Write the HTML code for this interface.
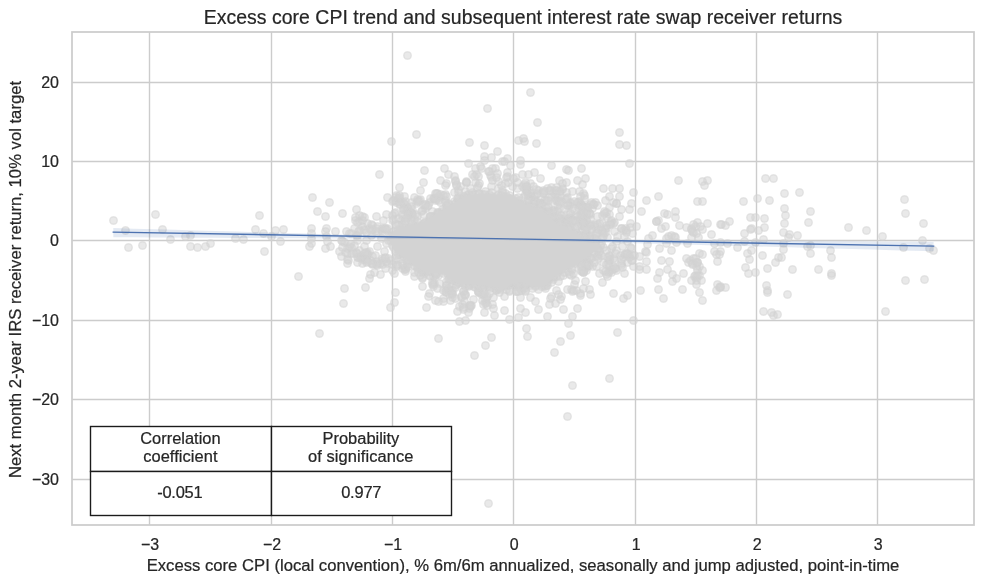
<!DOCTYPE html>
<html lang="en">
<head>
<meta charset="utf-8">
<title>Excess core CPI trend and subsequent interest rate swap receiver returns</title>
<style>html,body{margin:0;padding:0;background:#fff;overflow:hidden}svg{display:block;font-family:"Liberation Sans",sans-serif;font-variant-ligatures:none;font-kerning:normal}text{stroke:#262626;stroke-width:0.22px;stroke-linejoin:round}</style>
</head>
<body>
<svg width="984" height="584" viewBox="0 0 984 584" role="img" aria-label="Scatter plot with regression line">
<rect width="984" height="584" fill="#fff"/>
<g stroke="#cccccc" stroke-width="1.39" fill="none">
<line x1="149.5" y1="32.0" x2="149.5" y2="525.0"/>
<line x1="271.5" y1="32.0" x2="271.5" y2="525.0"/>
<line x1="392.5" y1="32.0" x2="392.5" y2="525.0"/>
<line x1="513.5" y1="32.0" x2="513.5" y2="525.0"/>
<line x1="635.5" y1="32.0" x2="635.5" y2="525.0"/>
<line x1="756.5" y1="32.0" x2="756.5" y2="525.0"/>
<line x1="877.5" y1="32.0" x2="877.5" y2="525.0"/>
<line x1="72.0" y1="479.5" x2="974.0" y2="479.5"/>
<line x1="72.0" y1="399.5" x2="974.0" y2="399.5"/>
<line x1="72.0" y1="320.5" x2="974.0" y2="320.5"/>
<line x1="72.0" y1="240.5" x2="974.0" y2="240.5"/>
<line x1="72.0" y1="161.5" x2="974.0" y2="161.5"/>
<line x1="72.0" y1="82.5" x2="974.0" y2="82.5"/>
</g>
<g fill="#d3d3d3" fill-opacity="0.5" stroke="#d3d3d3" stroke-opacity="0.5" stroke-width="1.39">
<circle cx="518.5" cy="280.5" r="3.8"/>
<circle cx="529.5" cy="275.5" r="3.8"/>
<circle cx="598.5" cy="248.5" r="3.8"/>
<circle cx="398.5" cy="229.5" r="3.8"/>
<circle cx="398.5" cy="236.5" r="3.8"/>
<circle cx="546.5" cy="279.5" r="3.8"/>
<circle cx="412.5" cy="227.5" r="3.8"/>
<circle cx="551.5" cy="223.5" r="3.8"/>
<circle cx="398.5" cy="248.5" r="3.8"/>
<circle cx="464.5" cy="280.5" r="3.8"/>
<circle cx="475.5" cy="194.5" r="3.8"/>
<circle cx="474.5" cy="281.5" r="3.8"/>
<circle cx="425.5" cy="222.5" r="3.8"/>
<circle cx="542.5" cy="222.5" r="3.8"/>
<circle cx="395.5" cy="234.5" r="3.8"/>
<circle cx="433.5" cy="224.5" r="3.8"/>
<circle cx="510.5" cy="198.5" r="3.8"/>
<circle cx="559.5" cy="268.5" r="3.8"/>
<circle cx="536.5" cy="214.5" r="3.8"/>
<circle cx="525.5" cy="280.5" r="3.8"/>
<circle cx="476.5" cy="200.5" r="3.8"/>
<circle cx="562.5" cy="233.5" r="3.8"/>
<circle cx="456.5" cy="274.5" r="3.8"/>
<circle cx="510.5" cy="282.5" r="3.8"/>
<circle cx="532.5" cy="210.5" r="3.8"/>
<circle cx="576.5" cy="233.5" r="3.8"/>
<circle cx="410.5" cy="234.5" r="3.8"/>
<circle cx="499.5" cy="201.5" r="3.8"/>
<circle cx="519.5" cy="276.5" r="3.8"/>
<circle cx="432.5" cy="266.5" r="3.8"/>
<circle cx="395.5" cy="251.5" r="3.8"/>
<circle cx="478.5" cy="193.5" r="3.8"/>
<circle cx="570.5" cy="262.5" r="3.8"/>
<circle cx="472.5" cy="194.5" r="3.8"/>
<circle cx="586.5" cy="257.5" r="3.8"/>
<circle cx="391.5" cy="232.5" r="3.8"/>
<circle cx="456.5" cy="279.5" r="3.8"/>
<circle cx="404.5" cy="246.5" r="3.8"/>
<circle cx="449.5" cy="267.5" r="3.8"/>
<circle cx="553.5" cy="279.5" r="3.8"/>
<circle cx="412.5" cy="253.5" r="3.8"/>
<circle cx="429.5" cy="218.5" r="3.8"/>
<circle cx="579.5" cy="250.5" r="3.8"/>
<circle cx="512.5" cy="199.5" r="3.8"/>
<circle cx="554.5" cy="221.5" r="3.8"/>
<circle cx="470.5" cy="203.5" r="3.8"/>
<circle cx="493.5" cy="199.5" r="3.8"/>
<circle cx="558.5" cy="270.5" r="3.8"/>
<circle cx="548.5" cy="280.5" r="3.8"/>
<circle cx="484.5" cy="198.5" r="3.8"/>
<circle cx="393.5" cy="247.5" r="3.8"/>
<circle cx="444.5" cy="267.5" r="3.8"/>
<circle cx="467.5" cy="197.5" r="3.8"/>
<circle cx="570.5" cy="233.5" r="3.8"/>
<circle cx="540.5" cy="213.5" r="3.8"/>
<circle cx="563.5" cy="228.5" r="3.8"/>
<circle cx="532.5" cy="211.5" r="3.8"/>
<circle cx="388.5" cy="240.5" r="3.8"/>
<circle cx="447.5" cy="267.5" r="3.8"/>
<circle cx="448.5" cy="271.5" r="3.8"/>
<circle cx="400.5" cy="229.5" r="3.8"/>
<circle cx="508.5" cy="285.5" r="3.8"/>
<circle cx="512.5" cy="276.5" r="3.8"/>
<circle cx="544.5" cy="211.5" r="3.8"/>
<circle cx="548.5" cy="277.5" r="3.8"/>
<circle cx="465.5" cy="201.5" r="3.8"/>
<circle cx="393.5" cy="231.5" r="3.8"/>
<circle cx="559.5" cy="262.5" r="3.8"/>
<circle cx="505.5" cy="193.5" r="3.8"/>
<circle cx="398.5" cy="254.5" r="3.8"/>
<circle cx="572.5" cy="261.5" r="3.8"/>
<circle cx="473.5" cy="276.5" r="3.8"/>
<circle cx="429.5" cy="267.5" r="3.8"/>
<circle cx="443.5" cy="263.5" r="3.8"/>
<circle cx="439.5" cy="221.5" r="3.8"/>
<circle cx="491.5" cy="283.5" r="3.8"/>
<circle cx="437.5" cy="212.5" r="3.8"/>
<circle cx="528.5" cy="215.5" r="3.8"/>
<circle cx="547.5" cy="271.5" r="3.8"/>
<circle cx="419.5" cy="263.5" r="3.8"/>
<circle cx="418.5" cy="225.5" r="3.8"/>
<circle cx="443.5" cy="273.5" r="3.8"/>
<circle cx="434.5" cy="217.5" r="3.8"/>
<circle cx="578.5" cy="240.5" r="3.8"/>
<circle cx="416.5" cy="263.5" r="3.8"/>
<circle cx="390.5" cy="240.5" r="3.8"/>
<circle cx="501.5" cy="287.5" r="3.8"/>
<circle cx="439.5" cy="214.5" r="3.8"/>
<circle cx="414.5" cy="265.5" r="3.8"/>
<circle cx="509.5" cy="195.5" r="3.8"/>
<circle cx="444.5" cy="214.5" r="3.8"/>
<circle cx="468.5" cy="277.5" r="3.8"/>
<circle cx="501.5" cy="283.5" r="3.8"/>
<circle cx="422.5" cy="265.5" r="3.8"/>
<circle cx="491.5" cy="198.5" r="3.8"/>
<circle cx="401.5" cy="246.5" r="3.8"/>
<circle cx="514.5" cy="279.5" r="3.8"/>
<circle cx="493.5" cy="285.5" r="3.8"/>
<circle cx="594.5" cy="247.5" r="3.8"/>
<circle cx="411.5" cy="235.5" r="3.8"/>
<circle cx="573.5" cy="233.5" r="3.8"/>
<circle cx="527.5" cy="212.5" r="3.8"/>
<circle cx="546.5" cy="219.5" r="3.8"/>
<circle cx="580.5" cy="243.5" r="3.8"/>
<circle cx="589.5" cy="244.5" r="3.8"/>
<circle cx="437.5" cy="214.5" r="3.8"/>
<circle cx="512.5" cy="204.5" r="3.8"/>
<circle cx="454.5" cy="204.5" r="3.8"/>
<circle cx="527.5" cy="282.5" r="3.8"/>
<circle cx="498.5" cy="198.5" r="3.8"/>
<circle cx="464.5" cy="202.5" r="3.8"/>
<circle cx="559.5" cy="230.5" r="3.8"/>
<circle cx="455.5" cy="209.5" r="3.8"/>
<circle cx="592.5" cy="251.5" r="3.8"/>
<circle cx="509.5" cy="200.5" r="3.8"/>
<circle cx="406.5" cy="260.5" r="3.8"/>
<circle cx="552.5" cy="223.5" r="3.8"/>
<circle cx="422.5" cy="271.5" r="3.8"/>
<circle cx="573.5" cy="241.5" r="3.8"/>
<circle cx="454.5" cy="210.5" r="3.8"/>
<circle cx="550.5" cy="217.5" r="3.8"/>
<circle cx="535.5" cy="285.5" r="3.8"/>
<circle cx="427.5" cy="268.5" r="3.8"/>
<circle cx="524.5" cy="277.5" r="3.8"/>
<circle cx="421.5" cy="229.5" r="3.8"/>
<circle cx="542.5" cy="279.5" r="3.8"/>
<circle cx="515.5" cy="198.5" r="3.8"/>
<circle cx="465.5" cy="283.5" r="3.8"/>
<circle cx="487.5" cy="286.5" r="3.8"/>
<circle cx="475.5" cy="277.5" r="3.8"/>
<circle cx="483.5" cy="200.5" r="3.8"/>
<circle cx="486.5" cy="201.5" r="3.8"/>
<circle cx="588.5" cy="251.5" r="3.8"/>
<circle cx="427.5" cy="226.5" r="3.8"/>
<circle cx="568.5" cy="229.5" r="3.8"/>
<circle cx="554.5" cy="228.5" r="3.8"/>
<circle cx="418.5" cy="229.5" r="3.8"/>
<circle cx="569.5" cy="234.5" r="3.8"/>
<circle cx="553.5" cy="269.5" r="3.8"/>
<circle cx="538.5" cy="210.5" r="3.8"/>
<circle cx="532.5" cy="280.5" r="3.8"/>
<circle cx="571.5" cy="258.5" r="3.8"/>
<circle cx="536.5" cy="217.5" r="3.8"/>
<circle cx="438.5" cy="219.5" r="3.8"/>
<circle cx="460.5" cy="203.5" r="3.8"/>
<circle cx="420.5" cy="226.5" r="3.8"/>
<circle cx="582.5" cy="241.5" r="3.8"/>
<circle cx="481.5" cy="280.5" r="3.8"/>
<circle cx="481.5" cy="285.5" r="3.8"/>
<circle cx="544.5" cy="218.5" r="3.8"/>
<circle cx="583.5" cy="256.5" r="3.8"/>
<circle cx="465.5" cy="277.5" r="3.8"/>
<circle cx="403.5" cy="250.5" r="3.8"/>
<circle cx="393.5" cy="238.5" r="3.8"/>
<circle cx="420.5" cy="268.5" r="3.8"/>
<circle cx="573.5" cy="257.5" r="3.8"/>
<circle cx="445.5" cy="212.5" r="3.8"/>
<circle cx="454.5" cy="201.5" r="3.8"/>
<circle cx="422.5" cy="224.5" r="3.8"/>
<circle cx="449.5" cy="278.5" r="3.8"/>
<circle cx="460.5" cy="280.5" r="3.8"/>
<circle cx="473.5" cy="282.5" r="3.8"/>
<circle cx="544.5" cy="286.5" r="3.8"/>
<circle cx="577.5" cy="258.5" r="3.8"/>
<circle cx="426.5" cy="262.5" r="3.8"/>
<circle cx="539.5" cy="219.5" r="3.8"/>
<circle cx="433.5" cy="216.5" r="3.8"/>
<circle cx="533.5" cy="283.5" r="3.8"/>
<circle cx="556.5" cy="265.5" r="3.8"/>
<circle cx="559.5" cy="270.5" r="3.8"/>
<circle cx="429.5" cy="263.5" r="3.8"/>
<circle cx="453.5" cy="280.5" r="3.8"/>
<circle cx="583.5" cy="239.5" r="3.8"/>
<circle cx="584.5" cy="253.5" r="3.8"/>
<circle cx="548.5" cy="221.5" r="3.8"/>
<circle cx="430.5" cy="222.5" r="3.8"/>
<circle cx="486.5" cy="278.5" r="3.8"/>
<circle cx="519.5" cy="200.5" r="3.8"/>
<circle cx="461.5" cy="278.5" r="3.8"/>
<circle cx="520.5" cy="280.5" r="3.8"/>
<circle cx="455.5" cy="207.5" r="3.8"/>
<circle cx="568.5" cy="265.5" r="3.8"/>
<circle cx="461.5" cy="198.5" r="3.8"/>
<circle cx="585.5" cy="251.5" r="3.8"/>
<circle cx="478.5" cy="279.5" r="3.8"/>
<circle cx="429.5" cy="264.5" r="3.8"/>
<circle cx="424.5" cy="222.5" r="3.8"/>
<circle cx="489.5" cy="194.5" r="3.8"/>
<circle cx="418.5" cy="258.5" r="3.8"/>
<circle cx="523.5" cy="212.5" r="3.8"/>
<circle cx="418.5" cy="266.5" r="3.8"/>
<circle cx="548.5" cy="216.5" r="3.8"/>
<circle cx="542.5" cy="277.5" r="3.8"/>
<circle cx="539.5" cy="282.5" r="3.8"/>
<circle cx="452.5" cy="207.5" r="3.8"/>
<circle cx="409.5" cy="256.5" r="3.8"/>
<circle cx="546.5" cy="215.5" r="3.8"/>
<circle cx="539.5" cy="214.5" r="3.8"/>
<circle cx="433.5" cy="226.5" r="3.8"/>
<circle cx="553.5" cy="271.5" r="3.8"/>
<circle cx="459.5" cy="283.5" r="3.8"/>
<circle cx="400.5" cy="254.5" r="3.8"/>
<circle cx="495.5" cy="198.5" r="3.8"/>
<circle cx="483.5" cy="282.5" r="3.8"/>
<circle cx="459.5" cy="277.5" r="3.8"/>
<circle cx="573.5" cy="238.5" r="3.8"/>
<circle cx="481.5" cy="198.5" r="3.8"/>
<circle cx="398.5" cy="250.5" r="3.8"/>
<circle cx="483.5" cy="285.5" r="3.8"/>
<circle cx="489.5" cy="286.5" r="3.8"/>
<circle cx="579.5" cy="261.5" r="3.8"/>
<circle cx="415.5" cy="226.5" r="3.8"/>
<circle cx="421.5" cy="259.5" r="3.8"/>
<circle cx="446.5" cy="215.5" r="3.8"/>
<circle cx="524.5" cy="275.5" r="3.8"/>
<circle cx="550.5" cy="271.5" r="3.8"/>
<circle cx="587.5" cy="252.5" r="3.8"/>
<circle cx="531.5" cy="215.5" r="3.8"/>
<circle cx="534.5" cy="281.5" r="3.8"/>
<circle cx="575.5" cy="260.5" r="3.8"/>
<circle cx="584.5" cy="247.5" r="3.8"/>
<circle cx="556.5" cy="273.5" r="3.8"/>
<circle cx="576.5" cy="244.5" r="3.8"/>
<circle cx="506.5" cy="283.5" r="3.8"/>
<circle cx="423.5" cy="261.5" r="3.8"/>
<circle cx="517.5" cy="206.5" r="3.8"/>
<circle cx="553.5" cy="219.5" r="3.8"/>
<circle cx="424.5" cy="223.5" r="3.8"/>
<circle cx="576.5" cy="242.5" r="3.8"/>
<circle cx="471.5" cy="280.5" r="3.8"/>
<circle cx="479.5" cy="199.5" r="3.8"/>
<circle cx="479.5" cy="278.5" r="3.8"/>
<circle cx="549.5" cy="226.5" r="3.8"/>
<circle cx="474.5" cy="284.5" r="3.8"/>
<circle cx="459.5" cy="205.5" r="3.8"/>
<circle cx="547.5" cy="225.5" r="3.8"/>
<circle cx="517.5" cy="275.5" r="3.8"/>
<circle cx="403.5" cy="229.5" r="3.8"/>
<circle cx="518.5" cy="208.5" r="3.8"/>
<circle cx="526.5" cy="208.5" r="3.8"/>
<circle cx="571.5" cy="230.5" r="3.8"/>
<circle cx="409.5" cy="227.5" r="3.8"/>
<circle cx="491.5" cy="192.5" r="3.8"/>
<circle cx="569.5" cy="238.5" r="3.8"/>
<circle cx="552.5" cy="226.5" r="3.8"/>
<circle cx="564.5" cy="236.5" r="3.8"/>
<circle cx="580.5" cy="254.5" r="3.8"/>
<circle cx="568.5" cy="259.5" r="3.8"/>
<circle cx="445.5" cy="266.5" r="3.8"/>
<circle cx="440.5" cy="270.5" r="3.8"/>
<circle cx="463.5" cy="206.5" r="3.8"/>
<circle cx="506.5" cy="200.5" r="3.8"/>
<circle cx="489.5" cy="283.5" r="3.8"/>
<circle cx="585.5" cy="245.5" r="3.8"/>
<circle cx="579.5" cy="256.5" r="3.8"/>
<circle cx="449.5" cy="266.5" r="3.8"/>
<circle cx="450.5" cy="279.5" r="3.8"/>
<circle cx="530.5" cy="275.5" r="3.8"/>
<circle cx="582.5" cy="261.5" r="3.8"/>
<circle cx="393.5" cy="235.5" r="3.8"/>
<circle cx="529.5" cy="211.5" r="3.8"/>
<circle cx="576.5" cy="238.5" r="3.8"/>
<circle cx="451.5" cy="277.5" r="3.8"/>
<circle cx="533.5" cy="276.5" r="3.8"/>
<circle cx="413.5" cy="256.5" r="3.8"/>
<circle cx="578.5" cy="254.5" r="3.8"/>
<circle cx="539.5" cy="280.5" r="3.8"/>
<circle cx="490.5" cy="279.5" r="3.8"/>
<circle cx="530.5" cy="285.5" r="3.8"/>
<circle cx="503.5" cy="280.5" r="3.8"/>
<circle cx="561.5" cy="269.5" r="3.8"/>
<circle cx="524.5" cy="205.5" r="3.8"/>
<circle cx="415.5" cy="256.5" r="3.8"/>
<circle cx="486.5" cy="197.5" r="3.8"/>
<circle cx="501.5" cy="279.5" r="3.8"/>
<circle cx="406.5" cy="256.5" r="3.8"/>
<circle cx="567.5" cy="236.5" r="3.8"/>
<circle cx="557.5" cy="229.5" r="3.8"/>
<circle cx="569.5" cy="265.5" r="3.8"/>
<circle cx="396.5" cy="245.5" r="3.8"/>
<circle cx="593.5" cy="244.5" r="3.8"/>
<circle cx="482.5" cy="194.5" r="3.8"/>
<circle cx="515.5" cy="283.5" r="3.8"/>
<circle cx="553.5" cy="276.5" r="3.8"/>
<circle cx="464.5" cy="198.5" r="3.8"/>
<circle cx="411.5" cy="259.5" r="3.8"/>
<circle cx="575.5" cy="263.5" r="3.8"/>
<circle cx="454.5" cy="274.5" r="3.8"/>
<circle cx="527.5" cy="277.5" r="3.8"/>
<circle cx="536.5" cy="282.5" r="3.8"/>
<circle cx="441.5" cy="264.5" r="3.8"/>
<circle cx="529.5" cy="210.5" r="3.8"/>
<circle cx="442.5" cy="211.5" r="3.8"/>
<circle cx="498.5" cy="194.5" r="3.8"/>
<circle cx="583.5" cy="250.5" r="3.8"/>
<circle cx="499.5" cy="288.5" r="3.8"/>
<circle cx="582.5" cy="244.5" r="3.8"/>
<circle cx="433.5" cy="222.5" r="3.8"/>
<circle cx="396.5" cy="240.5" r="3.8"/>
<circle cx="542.5" cy="282.5" r="3.8"/>
<circle cx="515.5" cy="277.5" r="3.8"/>
<circle cx="423.5" cy="271.5" r="3.8"/>
<circle cx="515.5" cy="204.5" r="3.8"/>
<circle cx="416.5" cy="232.5" r="3.8"/>
<circle cx="437.5" cy="264.5" r="3.8"/>
<circle cx="412.5" cy="232.5" r="3.8"/>
<circle cx="430.5" cy="216.5" r="3.8"/>
<circle cx="451.5" cy="211.5" r="3.8"/>
<circle cx="451.5" cy="272.5" r="3.8"/>
<circle cx="469.5" cy="284.5" r="3.8"/>
<circle cx="588.5" cy="247.5" r="3.8"/>
<circle cx="468.5" cy="204.5" r="3.8"/>
<circle cx="506.5" cy="289.5" r="3.8"/>
<circle cx="512.5" cy="280.5" r="3.8"/>
<circle cx="470.5" cy="275.5" r="3.8"/>
<circle cx="527.5" cy="280.5" r="3.8"/>
<circle cx="520.5" cy="204.5" r="3.8"/>
<circle cx="520.5" cy="274.5" r="3.8"/>
<circle cx="501.5" cy="198.5" r="3.8"/>
<circle cx="488.5" cy="199.5" r="3.8"/>
<circle cx="471.5" cy="196.5" r="3.8"/>
<circle cx="430.5" cy="226.5" r="3.8"/>
<circle cx="447.5" cy="206.5" r="3.8"/>
<circle cx="434.5" cy="266.5" r="3.8"/>
<circle cx="447.5" cy="213.5" r="3.8"/>
<circle cx="530.5" cy="282.5" r="3.8"/>
<circle cx="504.5" cy="200.5" r="3.8"/>
<circle cx="395.5" cy="242.5" r="3.8"/>
<circle cx="403.5" cy="235.5" r="3.8"/>
<circle cx="406.5" cy="254.5" r="3.8"/>
<circle cx="474.5" cy="198.5" r="3.8"/>
<circle cx="460.5" cy="274.5" r="3.8"/>
<circle cx="588.5" cy="243.5" r="3.8"/>
<circle cx="446.5" cy="209.5" r="3.8"/>
<circle cx="496.5" cy="200.5" r="3.8"/>
<circle cx="445.5" cy="271.5" r="3.8"/>
<circle cx="483.5" cy="279.5" r="3.8"/>
<circle cx="527.5" cy="206.5" r="3.8"/>
<circle cx="456.5" cy="202.5" r="3.8"/>
<circle cx="519.5" cy="203.5" r="3.8"/>
<circle cx="552.5" cy="222.5" r="3.8"/>
<circle cx="392.5" cy="245.5" r="3.8"/>
<circle cx="504.5" cy="196.5" r="3.8"/>
<circle cx="498.5" cy="279.5" r="3.8"/>
<circle cx="431.5" cy="219.5" r="3.8"/>
<circle cx="558.5" cy="228.5" r="3.8"/>
<circle cx="442.5" cy="209.5" r="3.8"/>
<circle cx="519.5" cy="207.5" r="3.8"/>
<circle cx="507.5" cy="197.5" r="3.8"/>
<circle cx="449.5" cy="214.5" r="3.8"/>
<circle cx="536.5" cy="213.5" r="3.8"/>
<circle cx="472.5" cy="201.5" r="3.8"/>
<circle cx="496.5" cy="196.5" r="3.8"/>
<circle cx="390.5" cy="236.5" r="3.8"/>
<circle cx="477.5" cy="285.5" r="3.8"/>
<circle cx="521.5" cy="209.5" r="3.8"/>
<circle cx="550.5" cy="277.5" r="3.8"/>
<circle cx="405.5" cy="227.5" r="3.8"/>
<circle cx="492.5" cy="278.5" r="3.8"/>
<circle cx="430.5" cy="223.5" r="3.8"/>
<circle cx="479.5" cy="193.5" r="3.8"/>
<circle cx="423.5" cy="260.5" r="3.8"/>
<circle cx="437.5" cy="268.5" r="3.8"/>
<circle cx="419.5" cy="232.5" r="3.8"/>
<circle cx="458.5" cy="200.5" r="3.8"/>
<circle cx="500.5" cy="283.5" r="3.8"/>
<circle cx="566.5" cy="234.5" r="3.8"/>
<circle cx="484.5" cy="194.5" r="3.8"/>
<circle cx="545.5" cy="220.5" r="3.8"/>
<circle cx="432.5" cy="263.5" r="3.8"/>
<circle cx="561.5" cy="265.5" r="3.8"/>
<circle cx="563.5" cy="266.5" r="3.8"/>
<circle cx="406.5" cy="236.5" r="3.8"/>
<circle cx="437.5" cy="222.5" r="3.8"/>
<circle cx="425.5" cy="229.5" r="3.8"/>
<circle cx="466.5" cy="279.5" r="3.8"/>
<circle cx="546.5" cy="283.5" r="3.8"/>
<circle cx="555.5" cy="268.5" r="3.8"/>
<circle cx="412.5" cy="231.5" r="3.8"/>
<circle cx="415.5" cy="260.5" r="3.8"/>
<circle cx="488.5" cy="279.5" r="3.8"/>
<circle cx="400.5" cy="234.5" r="3.8"/>
<circle cx="491.5" cy="196.5" r="3.8"/>
<circle cx="574.5" cy="256.5" r="3.8"/>
<circle cx="556.5" cy="233.5" r="3.8"/>
<circle cx="428.5" cy="223.5" r="3.8"/>
<circle cx="403.5" cy="253.5" r="3.8"/>
<circle cx="400.5" cy="246.5" r="3.8"/>
<circle cx="408.5" cy="250.5" r="3.8"/>
<circle cx="407.5" cy="231.5" r="3.8"/>
<circle cx="417.5" cy="268.5" r="3.8"/>
<circle cx="501.5" cy="195.5" r="3.8"/>
<circle cx="514.5" cy="206.5" r="3.8"/>
<circle cx="503.5" cy="202.5" r="3.8"/>
<circle cx="557.5" cy="224.5" r="3.8"/>
<circle cx="454.5" cy="212.5" r="3.8"/>
<circle cx="427.5" cy="270.5" r="3.8"/>
<circle cx="503.5" cy="285.5" r="3.8"/>
<circle cx="410.5" cy="261.5" r="3.8"/>
<circle cx="583.5" cy="259.5" r="3.8"/>
<circle cx="461.5" cy="282.5" r="3.8"/>
<circle cx="564.5" cy="230.5" r="3.8"/>
<circle cx="541.5" cy="214.5" r="3.8"/>
<circle cx="447.5" cy="273.5" r="3.8"/>
<circle cx="563.5" cy="262.5" r="3.8"/>
<circle cx="425.5" cy="265.5" r="3.8"/>
<circle cx="413.5" cy="229.5" r="3.8"/>
<circle cx="507.5" cy="279.5" r="3.8"/>
<circle cx="575.5" cy="235.5" r="3.8"/>
<circle cx="479.5" cy="282.5" r="3.8"/>
<circle cx="558.5" cy="232.5" r="3.8"/>
<circle cx="433.5" cy="269.5" r="3.8"/>
<circle cx="529.5" cy="206.5" r="3.8"/>
<circle cx="463.5" cy="275.5" r="3.8"/>
<circle cx="466.5" cy="195.5" r="3.8"/>
<circle cx="510.5" cy="277.5" r="3.8"/>
<circle cx="530.5" cy="277.5" r="3.8"/>
<circle cx="454.5" cy="272.5" r="3.8"/>
<circle cx="430.5" cy="271.5" r="3.8"/>
<circle cx="413.5" cy="261.5" r="3.8"/>
<circle cx="461.5" cy="208.5" r="3.8"/>
<circle cx="422.5" cy="227.5" r="3.8"/>
<circle cx="422.5" cy="269.5" r="3.8"/>
<circle cx="583.5" cy="242.5" r="3.8"/>
<circle cx="578.5" cy="235.5" r="3.8"/>
<circle cx="450.5" cy="274.5" r="3.8"/>
<circle cx="456.5" cy="278.5" r="3.8"/>
<circle cx="439.5" cy="268.5" r="3.8"/>
<circle cx="403.5" cy="256.5" r="3.8"/>
<circle cx="498.5" cy="286.5" r="3.8"/>
<circle cx="405.5" cy="249.5" r="3.8"/>
<circle cx="482.5" cy="278.5" r="3.8"/>
<circle cx="495.5" cy="280.5" r="3.8"/>
<circle cx="476.5" cy="198.5" r="3.8"/>
<circle cx="468.5" cy="194.5" r="3.8"/>
<circle cx="580.5" cy="260.5" r="3.8"/>
<circle cx="566.5" cy="261.5" r="3.8"/>
<circle cx="485.5" cy="282.5" r="3.8"/>
<circle cx="590.5" cy="246.5" r="3.8"/>
<circle cx="449.5" cy="209.5" r="3.8"/>
<circle cx="565.5" cy="268.5" r="3.8"/>
<circle cx="559.5" cy="235.5" r="3.8"/>
<circle cx="496.5" cy="283.5" r="3.8"/>
<circle cx="516.5" cy="274.5" r="3.8"/>
<circle cx="552.5" cy="273.5" r="3.8"/>
<circle cx="542.5" cy="285.5" r="3.8"/>
<circle cx="552.5" cy="229.5" r="3.8"/>
<circle cx="397.5" cy="240.5" r="3.8"/>
<circle cx="506.5" cy="277.5" r="3.8"/>
<circle cx="405.5" cy="233.5" r="3.8"/>
<circle cx="515.5" cy="201.5" r="3.8"/>
<circle cx="580.5" cy="235.5" r="3.8"/>
<circle cx="462.5" cy="200.5" r="3.8"/>
<circle cx="400.5" cy="235.5" r="3.8"/>
<circle cx="549.5" cy="273.5" r="3.8"/>
<circle cx="403.5" cy="234.5" r="3.8"/>
<circle cx="469.5" cy="201.5" r="3.8"/>
<circle cx="442.5" cy="218.5" r="3.8"/>
<circle cx="534.5" cy="210.5" r="3.8"/>
<circle cx="530.5" cy="92.5" r="3.8"/>
<circle cx="663.5" cy="298.5" r="3.8"/>
<circle cx="326.5" cy="228.5" r="3.8"/>
<circle cx="369.5" cy="228.5" r="3.8"/>
<circle cx="661.5" cy="228.5" r="3.8"/>
<circle cx="398.5" cy="198.5" r="3.8"/>
<circle cx="430.5" cy="198.5" r="3.8"/>
<circle cx="691.5" cy="228.5" r="3.8"/>
<circle cx="311.5" cy="228.5" r="3.8"/>
<circle cx="162.5" cy="229.5" r="3.8"/>
<circle cx="420.5" cy="199.5" r="3.8"/>
<circle cx="848.5" cy="227.5" r="3.8"/>
<circle cx="387.5" cy="197.5" r="3.8"/>
<circle cx="686.5" cy="227.5" r="3.8"/>
<circle cx="364.5" cy="230.5" r="3.8"/>
<circle cx="626.5" cy="230.5" r="3.8"/>
<circle cx="377.5" cy="265.5" r="3.8"/>
<circle cx="556.5" cy="290.5" r="3.8"/>
<circle cx="435.5" cy="200.5" r="3.8"/>
<circle cx="866.5" cy="230.5" r="3.8"/>
<circle cx="702.5" cy="300.5" r="3.8"/>
<circle cx="636.5" cy="226.5" r="3.8"/>
<circle cx="335.5" cy="231.5" r="3.8"/>
<circle cx="497.5" cy="151.5" r="3.8"/>
<circle cx="665.5" cy="226.5" r="3.8"/>
<circle cx="404.5" cy="196.5" r="3.8"/>
<circle cx="626.5" cy="145.5" r="3.8"/>
<circle cx="325.5" cy="231.5" r="3.8"/>
<circle cx="346.5" cy="231.5" r="3.8"/>
<circle cx="692.5" cy="231.5" r="3.8"/>
<circle cx="516.5" cy="291.5" r="3.8"/>
<circle cx="405.5" cy="201.5" r="3.8"/>
<circle cx="484.5" cy="145.5" r="3.8"/>
<circle cx="372.5" cy="225.5" r="3.8"/>
<circle cx="679.5" cy="225.5" r="3.8"/>
<circle cx="621.5" cy="228.5" r="3.8"/>
<circle cx="443.5" cy="195.5" r="3.8"/>
<circle cx="695.5" cy="226.5" r="3.8"/>
<circle cx="396.5" cy="202.5" r="3.8"/>
<circle cx="445.5" cy="194.5" r="3.8"/>
<circle cx="349.5" cy="233.5" r="3.8"/>
<circle cx="367.5" cy="223.5" r="3.8"/>
<circle cx="630.5" cy="223.5" r="3.8"/>
<circle cx="632.5" cy="233.5" r="3.8"/>
<circle cx="385.5" cy="268.5" r="3.8"/>
<circle cx="416.5" cy="203.5" r="3.8"/>
<circle cx="619.5" cy="144.5" r="3.8"/>
<circle cx="923.5" cy="223.5" r="3.8"/>
<circle cx="311.5" cy="233.5" r="3.8"/>
<circle cx="784.5" cy="223.5" r="3.8"/>
<circle cx="783.5" cy="232.5" r="3.8"/>
<circle cx="696.5" cy="233.5" r="3.8"/>
<circle cx="437.5" cy="193.5" r="3.8"/>
<circle cx="405.5" cy="269.5" r="3.8"/>
<circle cx="808.5" cy="222.5" r="3.8"/>
<circle cx="377.5" cy="226.5" r="3.8"/>
<circle cx="469.5" cy="142.5" r="3.8"/>
<circle cx="697.5" cy="222.5" r="3.8"/>
<circle cx="789.5" cy="234.5" r="3.8"/>
<circle cx="699.5" cy="292.5" r="3.8"/>
<circle cx="488.5" cy="503.5" r="3.8"/>
<circle cx="190.5" cy="235.5" r="3.8"/>
<circle cx="356.5" cy="235.5" r="3.8"/>
<circle cx="371.5" cy="235.5" r="3.8"/>
<circle cx="652.5" cy="235.5" r="3.8"/>
<circle cx="671.5" cy="235.5" r="3.8"/>
<circle cx="797.5" cy="235.5" r="3.8"/>
<circle cx="524.5" cy="141.5" r="3.8"/>
<circle cx="668.5" cy="236.5" r="3.8"/>
<circle cx="674.5" cy="236.5" r="3.8"/>
<circle cx="504.5" cy="296.5" r="3.8"/>
<circle cx="551.5" cy="296.5" r="3.8"/>
<circle cx="359.5" cy="221.5" r="3.8"/>
<circle cx="484.5" cy="156.5" r="3.8"/>
<circle cx="656.5" cy="221.5" r="3.8"/>
<circle cx="185.5" cy="236.5" r="3.8"/>
<circle cx="882.5" cy="236.5" r="3.8"/>
<circle cx="716.5" cy="290.5" r="3.8"/>
<circle cx="905.5" cy="280.5" r="3.8"/>
<circle cx="326.5" cy="236.5" r="3.8"/>
<circle cx="355.5" cy="220.5" r="3.8"/>
<circle cx="617.5" cy="236.5" r="3.8"/>
<circle cx="624.5" cy="236.5" r="3.8"/>
<circle cx="487.5" cy="296.5" r="3.8"/>
<circle cx="561.5" cy="296.5" r="3.8"/>
<circle cx="640.5" cy="290.5" r="3.8"/>
<circle cx="411.5" cy="206.5" r="3.8"/>
<circle cx="518.5" cy="140.5" r="3.8"/>
<circle cx="420.5" cy="190.5" r="3.8"/>
<circle cx="658.5" cy="220.5" r="3.8"/>
<circle cx="491.5" cy="157.5" r="3.8"/>
<circle cx="700.5" cy="226.5" r="3.8"/>
<circle cx="520.5" cy="297.5" r="3.8"/>
<circle cx="530.5" cy="297.5" r="3.8"/>
<circle cx="536.5" cy="143.5" r="3.8"/>
<circle cx="691.5" cy="237.5" r="3.8"/>
<circle cx="698.5" cy="237.5" r="3.8"/>
<circle cx="788.5" cy="237.5" r="3.8"/>
<circle cx="374.5" cy="272.5" r="3.8"/>
<circle cx="493.5" cy="297.5" r="3.8"/>
<circle cx="658.5" cy="289.5" r="3.8"/>
<circle cx="682.5" cy="289.5" r="3.8"/>
<circle cx="924.5" cy="279.5" r="3.8"/>
<circle cx="507.5" cy="158.5" r="3.8"/>
<circle cx="311.5" cy="238.5" r="3.8"/>
<circle cx="381.5" cy="238.5" r="3.8"/>
<circle cx="648.5" cy="238.5" r="3.8"/>
<circle cx="666.5" cy="238.5" r="3.8"/>
<circle cx="394.5" cy="273.5" r="3.8"/>
<circle cx="425.5" cy="208.5" r="3.8"/>
<circle cx="523.5" cy="138.5" r="3.8"/>
<circle cx="614.5" cy="231.5" r="3.8"/>
<circle cx="380.5" cy="274.5" r="3.8"/>
<circle cx="370.5" cy="274.5" r="3.8"/>
<circle cx="560.5" cy="299.5" r="3.8"/>
<circle cx="170.5" cy="239.5" r="3.8"/>
<circle cx="675.5" cy="217.5" r="3.8"/>
<circle cx="613.5" cy="223.5" r="3.8"/>
<circle cx="787.5" cy="294.5" r="3.8"/>
<circle cx="382.5" cy="230.5" r="3.8"/>
<circle cx="702.5" cy="229.5" r="3.8"/>
<circle cx="399.5" cy="187.5" r="3.8"/>
<circle cx="364.5" cy="217.5" r="3.8"/>
<circle cx="357.5" cy="240.5" r="3.8"/>
<circle cx="366.5" cy="240.5" r="3.8"/>
<circle cx="484.5" cy="160.5" r="3.8"/>
<circle cx="520.5" cy="160.5" r="3.8"/>
<circle cx="719.5" cy="287.5" r="3.8"/>
<circle cx="922.5" cy="240.5" r="3.8"/>
<circle cx="567.5" cy="289.5" r="3.8"/>
<circle cx="619.5" cy="216.5" r="3.8"/>
<circle cx="325.5" cy="216.5" r="3.8"/>
<circle cx="327.5" cy="241.5" r="3.8"/>
<circle cx="376.5" cy="216.5" r="3.8"/>
<circle cx="362.5" cy="216.5" r="3.8"/>
<circle cx="502.5" cy="161.5" r="3.8"/>
<circle cx="504.5" cy="161.5" r="3.8"/>
<circle cx="627.5" cy="241.5" r="3.8"/>
<circle cx="616.5" cy="241.5" r="3.8"/>
<circle cx="785.5" cy="215.5" r="3.8"/>
<circle cx="414.5" cy="276.5" r="3.8"/>
<circle cx="474.5" cy="355.5" r="3.8"/>
<circle cx="611.5" cy="220.5" r="3.8"/>
<circle cx="344.5" cy="242.5" r="3.8"/>
<circle cx="676.5" cy="242.5" r="3.8"/>
<circle cx="486.5" cy="302.5" r="3.8"/>
<circle cx="725.5" cy="287.5" r="3.8"/>
<circle cx="696.5" cy="284.5" r="3.8"/>
<circle cx="155.5" cy="214.5" r="3.8"/>
<circle cx="667.5" cy="214.5" r="3.8"/>
<circle cx="717.5" cy="284.5" r="3.8"/>
<circle cx="311.5" cy="243.5" r="3.8"/>
<circle cx="210.5" cy="243.5" r="3.8"/>
<circle cx="386.5" cy="243.5" r="3.8"/>
<circle cx="629.5" cy="163.5" r="3.8"/>
<circle cx="666.5" cy="243.5" r="3.8"/>
<circle cx="687.5" cy="243.5" r="3.8"/>
<circle cx="783.5" cy="243.5" r="3.8"/>
<circle cx="369.5" cy="278.5" r="3.8"/>
<circle cx="555.5" cy="303.5" r="3.8"/>
<circle cx="386.5" cy="214.5" r="3.8"/>
<circle cx="468.5" cy="163.5" r="3.8"/>
<circle cx="343.5" cy="303.5" r="3.8"/>
<circle cx="319.5" cy="333.5" r="3.8"/>
<circle cx="905.5" cy="213.5" r="3.8"/>
<circle cx="473.5" cy="299.5" r="3.8"/>
<circle cx="446.5" cy="183.5" r="3.8"/>
<circle cx="342.5" cy="213.5" r="3.8"/>
<circle cx="664.5" cy="213.5" r="3.8"/>
<circle cx="647.5" cy="244.5" r="3.8"/>
<circle cx="492.5" cy="304.5" r="3.8"/>
<circle cx="549.5" cy="304.5" r="3.8"/>
<circle cx="520.5" cy="164.5" r="3.8"/>
<circle cx="387.5" cy="228.5" r="3.8"/>
<circle cx="619.5" cy="132.5" r="3.8"/>
<circle cx="707.5" cy="223.5" r="3.8"/>
<circle cx="554.5" cy="352.5" r="3.8"/>
<circle cx="423.5" cy="182.5" r="3.8"/>
<circle cx="354.5" cy="245.5" r="3.8"/>
<circle cx="510.5" cy="165.5" r="3.8"/>
<circle cx="810.5" cy="245.5" r="3.8"/>
<circle cx="142.5" cy="245.5" r="3.8"/>
<circle cx="675.5" cy="211.5" r="3.8"/>
<circle cx="607.5" cy="237.5" r="3.8"/>
<circle cx="572.5" cy="291.5" r="3.8"/>
<circle cx="627.5" cy="295.5" r="3.8"/>
<circle cx="810.5" cy="211.5" r="3.8"/>
<circle cx="672.5" cy="281.5" r="3.8"/>
<circle cx="317.5" cy="211.5" r="3.8"/>
<circle cx="309.5" cy="246.5" r="3.8"/>
<circle cx="641.5" cy="211.5" r="3.8"/>
<circle cx="807.5" cy="246.5" r="3.8"/>
<circle cx="606.5" cy="216.5" r="3.8"/>
<circle cx="455.5" cy="181.5" r="3.8"/>
<circle cx="190.5" cy="246.5" r="3.8"/>
<circle cx="389.5" cy="235.5" r="3.8"/>
<circle cx="480.5" cy="166.5" r="3.8"/>
<circle cx="205.5" cy="246.5" r="3.8"/>
<circle cx="701.5" cy="280.5" r="3.8"/>
<circle cx="330.5" cy="246.5" r="3.8"/>
<circle cx="349.5" cy="246.5" r="3.8"/>
<circle cx="364.5" cy="246.5" r="3.8"/>
<circle cx="377.5" cy="246.5" r="3.8"/>
<circle cx="612.5" cy="246.5" r="3.8"/>
<circle cx="622.5" cy="246.5" r="3.8"/>
<circle cx="440.5" cy="180.5" r="3.8"/>
<circle cx="606.5" cy="225.5" r="3.8"/>
<circle cx="470.5" cy="305.5" r="3.8"/>
<circle cx="691.5" cy="280.5" r="3.8"/>
<circle cx="696.5" cy="280.5" r="3.8"/>
<circle cx="574.5" cy="284.5" r="3.8"/>
<circle cx="197.5" cy="247.5" r="3.8"/>
<circle cx="629.5" cy="209.5" r="3.8"/>
<circle cx="390.5" cy="307.5" r="3.8"/>
<circle cx="903.5" cy="247.5" r="3.8"/>
<circle cx="609.5" cy="378.5" r="3.8"/>
<circle cx="356.5" cy="209.5" r="3.8"/>
<circle cx="621.5" cy="209.5" r="3.8"/>
<circle cx="495.5" cy="168.5" r="3.8"/>
<circle cx="575.5" cy="280.5" r="3.8"/>
<circle cx="444.5" cy="168.5" r="3.8"/>
<circle cx="235.5" cy="238.5" r="3.8"/>
<circle cx="325.5" cy="248.5" r="3.8"/>
<circle cx="391.5" cy="141.5" r="3.8"/>
<circle cx="711.5" cy="234.5" r="3.8"/>
<circle cx="659.5" cy="248.5" r="3.8"/>
<circle cx="631.5" cy="248.5" r="3.8"/>
<circle cx="929.5" cy="248.5" r="3.8"/>
<circle cx="469.5" cy="308.5" r="3.8"/>
<circle cx="493.5" cy="308.5" r="3.8"/>
<circle cx="520.5" cy="308.5" r="3.8"/>
<circle cx="128.5" cy="247.5" r="3.8"/>
<circle cx="885.5" cy="311.5" r="3.8"/>
<circle cx="784.5" cy="208.5" r="3.8"/>
<circle cx="657.5" cy="278.5" r="3.8"/>
<circle cx="676.5" cy="278.5" r="3.8"/>
<circle cx="538.5" cy="309.5" r="3.8"/>
<circle cx="783.5" cy="249.5" r="3.8"/>
<circle cx="563.5" cy="309.5" r="3.8"/>
<circle cx="283.5" cy="229.5" r="3.8"/>
<circle cx="623.5" cy="298.5" r="3.8"/>
<circle cx="777.5" cy="314.5" r="3.8"/>
<circle cx="576.5" cy="290.5" r="3.8"/>
<circle cx="466.5" cy="181.5" r="3.8"/>
<circle cx="359.5" cy="250.5" r="3.8"/>
<circle cx="671.5" cy="250.5" r="3.8"/>
<circle cx="609.5" cy="207.5" r="3.8"/>
<circle cx="606.5" cy="250.5" r="3.8"/>
<circle cx="504.5" cy="310.5" r="3.8"/>
<circle cx="602.5" cy="215.5" r="3.8"/>
<circle cx="602.5" cy="231.5" r="3.8"/>
<circle cx="602.5" cy="237.5" r="3.8"/>
<circle cx="830.5" cy="250.5" r="3.8"/>
<circle cx="633.5" cy="320.5" r="3.8"/>
<circle cx="694.5" cy="276.5" r="3.8"/>
<circle cx="454.5" cy="176.5" r="3.8"/>
<circle cx="933.5" cy="250.5" r="3.8"/>
<circle cx="577.5" cy="308.5" r="3.8"/>
<circle cx="488.5" cy="171.5" r="3.8"/>
<circle cx="422.5" cy="286.5" r="3.8"/>
<circle cx="339.5" cy="251.5" r="3.8"/>
<circle cx="714.5" cy="243.5" r="3.8"/>
<circle cx="714.5" cy="251.5" r="3.8"/>
<circle cx="394.5" cy="302.5" r="3.8"/>
<circle cx="831.5" cy="275.5" r="3.8"/>
<circle cx="125.5" cy="230.5" r="3.8"/>
<circle cx="369.5" cy="251.5" r="3.8"/>
<circle cx="384.5" cy="251.5" r="3.8"/>
<circle cx="645.5" cy="251.5" r="3.8"/>
<circle cx="485.5" cy="345.5" r="3.8"/>
<circle cx="534.5" cy="172.5" r="3.8"/>
<circle cx="601.5" cy="243.5" r="3.8"/>
<circle cx="484.5" cy="312.5" r="3.8"/>
<circle cx="525.5" cy="312.5" r="3.8"/>
<circle cx="365.5" cy="287.5" r="3.8"/>
<circle cx="280.5" cy="241.5" r="3.8"/>
<circle cx="507.5" cy="172.5" r="3.8"/>
<circle cx="551.5" cy="165.5" r="3.8"/>
<circle cx="646.5" cy="252.5" r="3.8"/>
<circle cx="764.5" cy="218.5" r="3.8"/>
<circle cx="764.5" cy="227.5" r="3.8"/>
<circle cx="468.5" cy="312.5" r="3.8"/>
<circle cx="567.5" cy="416.5" r="3.8"/>
<circle cx="379.5" cy="174.5" r="3.8"/>
<circle cx="351.5" cy="253.5" r="3.8"/>
<circle cx="699.5" cy="253.5" r="3.8"/>
<circle cx="672.5" cy="274.5" r="3.8"/>
<circle cx="448.5" cy="174.5" r="3.8"/>
<circle cx="580.5" cy="293.5" r="3.8"/>
<circle cx="347.5" cy="253.5" r="3.8"/>
<circle cx="626.5" cy="253.5" r="3.8"/>
<circle cx="810.5" cy="253.5" r="3.8"/>
<circle cx="497.5" cy="173.5" r="3.8"/>
<circle cx="616.5" cy="203.5" r="3.8"/>
<circle cx="599.5" cy="223.5" r="3.8"/>
<circle cx="763.5" cy="239.5" r="3.8"/>
<circle cx="831.5" cy="273.5" r="3.8"/>
<circle cx="773.5" cy="315.5" r="3.8"/>
<circle cx="407.5" cy="55.5" r="3.8"/>
<circle cx="580.5" cy="295.5" r="3.8"/>
<circle cx="683.5" cy="273.5" r="3.8"/>
<circle cx="472.5" cy="174.5" r="3.8"/>
<circle cx="476.5" cy="174.5" r="3.8"/>
<circle cx="702.5" cy="254.5" r="3.8"/>
<circle cx="631.5" cy="203.5" r="3.8"/>
<circle cx="528.5" cy="174.5" r="3.8"/>
<circle cx="598.5" cy="229.5" r="3.8"/>
<circle cx="462.5" cy="304.5" r="3.8"/>
<circle cx="537.5" cy="122.5" r="3.8"/>
<circle cx="522.5" cy="174.5" r="3.8"/>
<circle cx="395.5" cy="292.5" r="3.8"/>
<circle cx="329.5" cy="202.5" r="3.8"/>
<circle cx="659.5" cy="272.5" r="3.8"/>
<circle cx="490.5" cy="175.5" r="3.8"/>
<circle cx="634.5" cy="255.5" r="3.8"/>
<circle cx="620.5" cy="255.5" r="3.8"/>
<circle cx="609.5" cy="255.5" r="3.8"/>
<circle cx="601.5" cy="255.5" r="3.8"/>
<circle cx="762.5" cy="255.5" r="3.8"/>
<circle cx="461.5" cy="296.5" r="3.8"/>
<circle cx="494.5" cy="315.5" r="3.8"/>
<circle cx="771.5" cy="312.5" r="3.8"/>
<circle cx="697.5" cy="201.5" r="3.8"/>
<circle cx="702.5" cy="201.5" r="3.8"/>
<circle cx="560.5" cy="341.5" r="3.8"/>
<circle cx="639.5" cy="256.5" r="3.8"/>
<circle cx="597.5" cy="216.5" r="3.8"/>
<circle cx="572.5" cy="316.5" r="3.8"/>
<circle cx="547.5" cy="316.5" r="3.8"/>
<circle cx="341.5" cy="256.5" r="3.8"/>
<circle cx="719.5" cy="254.5" r="3.8"/>
<circle cx="583.5" cy="288.5" r="3.8"/>
<circle cx="583.5" cy="272.5" r="3.8"/>
<circle cx="243.5" cy="239.5" r="3.8"/>
<circle cx="372.5" cy="256.5" r="3.8"/>
<circle cx="478.5" cy="176.5" r="3.8"/>
<circle cx="646.5" cy="200.5" r="3.8"/>
<circle cx="605.5" cy="200.5" r="3.8"/>
<circle cx="769.5" cy="200.5" r="3.8"/>
<circle cx="702.5" cy="270.5" r="3.8"/>
<circle cx="424.5" cy="170.5" r="3.8"/>
<circle cx="596.5" cy="246.5" r="3.8"/>
<circle cx="778.5" cy="257.5" r="3.8"/>
<circle cx="518.5" cy="317.5" r="3.8"/>
<circle cx="697.5" cy="270.5" r="3.8"/>
<circle cx="720.5" cy="251.5" r="3.8"/>
<circle cx="275.5" cy="230.5" r="3.8"/>
<circle cx="595.5" cy="202.5" r="3.8"/>
<circle cx="358.5" cy="257.5" r="3.8"/>
<circle cx="831.5" cy="257.5" r="3.8"/>
<circle cx="781.5" cy="257.5" r="3.8"/>
<circle cx="904.5" cy="199.5" r="3.8"/>
<circle cx="646.5" cy="269.5" r="3.8"/>
<circle cx="639.5" cy="269.5" r="3.8"/>
<circle cx="572.5" cy="385.5" r="3.8"/>
<circle cx="720.5" cy="242.5" r="3.8"/>
<circle cx="792.5" cy="269.5" r="3.8"/>
<circle cx="818.5" cy="269.5" r="3.8"/>
<circle cx="686.5" cy="258.5" r="3.8"/>
<circle cx="667.5" cy="269.5" r="3.8"/>
<circle cx="721.5" cy="224.5" r="3.8"/>
<circle cx="540.5" cy="178.5" r="3.8"/>
<circle cx="382.5" cy="258.5" r="3.8"/>
<circle cx="765.5" cy="178.5" r="3.8"/>
<circle cx="773.5" cy="178.5" r="3.8"/>
<circle cx="693.5" cy="258.5" r="3.8"/>
<circle cx="429.5" cy="293.5" r="3.8"/>
<circle cx="594.5" cy="238.5" r="3.8"/>
<circle cx="758.5" cy="230.5" r="3.8"/>
<circle cx="344.5" cy="288.5" r="3.8"/>
<circle cx="348.5" cy="260.5" r="3.8"/>
<circle cx="438.5" cy="338.5" r="3.8"/>
<circle cx="585.5" cy="281.5" r="3.8"/>
<circle cx="509.5" cy="319.5" r="3.8"/>
<circle cx="757.5" cy="198.5" r="3.8"/>
<circle cx="347.5" cy="263.5" r="3.8"/>
<circle cx="457.5" cy="311.5" r="3.8"/>
<circle cx="613.5" cy="293.5" r="3.8"/>
<circle cx="767.5" cy="268.5" r="3.8"/>
<circle cx="767.5" cy="290.5" r="3.8"/>
<circle cx="767.5" cy="292.5" r="3.8"/>
<circle cx="312.5" cy="197.5" r="3.8"/>
<circle cx="586.5" cy="259.5" r="3.8"/>
<circle cx="491.5" cy="337.5" r="3.8"/>
<circle cx="492.5" cy="180.5" r="3.8"/>
<circle cx="690.5" cy="260.5" r="3.8"/>
<circle cx="631.5" cy="260.5" r="3.8"/>
<circle cx="614.5" cy="260.5" r="3.8"/>
<circle cx="707.5" cy="180.5" r="3.8"/>
<circle cx="661.5" cy="260.5" r="3.8"/>
<circle cx="592.5" cy="208.5" r="3.8"/>
<circle cx="465.5" cy="320.5" r="3.8"/>
<circle cx="633.5" cy="266.5" r="3.8"/>
<circle cx="559.5" cy="180.5" r="3.8"/>
<circle cx="678.5" cy="180.5" r="3.8"/>
<circle cx="766.5" cy="285.5" r="3.8"/>
<circle cx="527.5" cy="336.5" r="3.8"/>
<circle cx="658.5" cy="196.5" r="3.8"/>
<circle cx="609.5" cy="196.5" r="3.8"/>
<circle cx="619.5" cy="196.5" r="3.8"/>
<circle cx="669.5" cy="261.5" r="3.8"/>
<circle cx="591.5" cy="229.5" r="3.8"/>
<circle cx="639.5" cy="266.5" r="3.8"/>
<circle cx="699.5" cy="266.5" r="3.8"/>
<circle cx="702.5" cy="181.5" r="3.8"/>
<circle cx="717.5" cy="261.5" r="3.8"/>
<circle cx="459.5" cy="321.5" r="3.8"/>
<circle cx="271.5" cy="236.5" r="3.8"/>
<circle cx="376.5" cy="261.5" r="3.8"/>
<circle cx="498.5" cy="181.5" r="3.8"/>
<circle cx="646.5" cy="261.5" r="3.8"/>
<circle cx="755.5" cy="217.5" r="3.8"/>
<circle cx="428.5" cy="296.5" r="3.8"/>
<circle cx="570.5" cy="335.5" r="3.8"/>
<circle cx="591.5" cy="258.5" r="3.8"/>
<circle cx="755.5" cy="242.5" r="3.8"/>
<circle cx="725.5" cy="225.5" r="3.8"/>
<circle cx="589.5" cy="289.5" r="3.8"/>
<circle cx="617.5" cy="332.5" r="3.8"/>
<circle cx="475.5" cy="182.5" r="3.8"/>
<circle cx="517.5" cy="182.5" r="3.8"/>
<circle cx="696.5" cy="262.5" r="3.8"/>
<circle cx="603.5" cy="262.5" r="3.8"/>
<circle cx="775.5" cy="262.5" r="3.8"/>
<circle cx="745.5" cy="267.5" r="3.8"/>
<circle cx="362.5" cy="263.5" r="3.8"/>
<circle cx="371.5" cy="263.5" r="3.8"/>
<circle cx="387.5" cy="263.5" r="3.8"/>
<circle cx="505.5" cy="183.5" r="3.8"/>
<circle cx="443.5" cy="298.5" r="3.8"/>
<circle cx="568.5" cy="323.5" r="3.8"/>
<circle cx="763.5" cy="311.5" r="3.8"/>
<circle cx="113.5" cy="220.5" r="3.8"/>
<circle cx="530.5" cy="183.5" r="3.8"/>
<circle cx="589.5" cy="213.5" r="3.8"/>
<circle cx="784.5" cy="193.5" r="3.8"/>
<circle cx="590.5" cy="294.5" r="3.8"/>
<circle cx="524.5" cy="184.5" r="3.8"/>
<circle cx="692.5" cy="264.5" r="3.8"/>
<circle cx="799.5" cy="192.5" r="3.8"/>
<circle cx="452.5" cy="293.5" r="3.8"/>
<circle cx="727.5" cy="243.5" r="3.8"/>
<circle cx="478.5" cy="185.5" r="3.8"/>
<circle cx="633.5" cy="192.5" r="3.8"/>
<circle cx="621.5" cy="265.5" r="3.8"/>
<circle cx="435.5" cy="300.5" r="3.8"/>
<circle cx="450.5" cy="300.5" r="3.8"/>
<circle cx="587.5" cy="235.5" r="3.8"/>
<circle cx="751.5" cy="250.5" r="3.8"/>
<circle cx="704.5" cy="185.5" r="3.8"/>
<circle cx="748.5" cy="273.5" r="3.8"/>
<circle cx="587.5" cy="206.5" r="3.8"/>
<circle cx="592.5" cy="266.5" r="3.8"/>
<circle cx="751.5" cy="228.5" r="3.8"/>
<circle cx="491.5" cy="186.5" r="3.8"/>
<circle cx="460.5" cy="186.5" r="3.8"/>
<circle cx="512.5" cy="186.5" r="3.8"/>
<circle cx="729.5" cy="221.5" r="3.8"/>
<circle cx="596.5" cy="266.5" r="3.8"/>
<circle cx="750.5" cy="217.5" r="3.8"/>
<circle cx="750.5" cy="229.5" r="3.8"/>
<circle cx="438.5" cy="301.5" r="3.8"/>
<circle cx="586.5" cy="220.5" r="3.8"/>
<circle cx="566.5" cy="169.5" r="3.8"/>
<circle cx="566.5" cy="182.5" r="3.8"/>
<circle cx="585.5" cy="178.5" r="3.8"/>
<circle cx="749.5" cy="259.5" r="3.8"/>
<circle cx="526.5" cy="328.5" r="3.8"/>
<circle cx="603.5" cy="188.5" r="3.8"/>
<circle cx="612.5" cy="188.5" r="3.8"/>
<circle cx="619.5" cy="188.5" r="3.8"/>
<circle cx="255.5" cy="229.5" r="3.8"/>
<circle cx="264.5" cy="251.5" r="3.8"/>
<circle cx="487.5" cy="108.5" r="3.8"/>
<circle cx="584.5" cy="195.5" r="3.8"/>
<circle cx="448.5" cy="288.5" r="3.8"/>
<circle cx="263.5" cy="233.5" r="3.8"/>
<circle cx="747.5" cy="253.5" r="3.8"/>
<circle cx="568.5" cy="170.5" r="3.8"/>
<circle cx="392.5" cy="270.5" r="3.8"/>
<circle cx="550.5" cy="190.5" r="3.8"/>
<circle cx="502.5" cy="190.5" r="3.8"/>
<circle cx="586.5" cy="270.5" r="3.8"/>
<circle cx="616.5" cy="270.5" r="3.8"/>
<circle cx="582.5" cy="184.5" r="3.8"/>
<circle cx="582.5" cy="230.5" r="3.8"/>
<circle cx="298.5" cy="276.5" r="3.8"/>
<circle cx="602.5" cy="282.5" r="3.8"/>
<circle cx="560.5" cy="191.5" r="3.8"/>
<circle cx="465.5" cy="191.5" r="3.8"/>
<circle cx="485.5" cy="191.5" r="3.8"/>
<circle cx="581.5" cy="168.5" r="3.8"/>
<circle cx="755.5" cy="272.5" r="3.8"/>
<circle cx="609.5" cy="271.5" r="3.8"/>
<circle cx="581.5" cy="213.5" r="3.8"/>
<circle cx="426.5" cy="307.5" r="3.8"/>
<circle cx="259.5" cy="215.5" r="3.8"/>
<circle cx="416.5" cy="134.5" r="3.8"/>
<circle cx="553.5" cy="192.5" r="3.8"/>
<circle cx="744.5" cy="233.5" r="3.8"/>
<circle cx="744.5" cy="241.5" r="3.8"/>
<circle cx="572.5" cy="191.5" r="3.8"/>
<circle cx="537.5" cy="193.5" r="3.8"/>
<circle cx="624.5" cy="273.5" r="3.8"/>
<circle cx="599.5" cy="273.5" r="3.8"/>
<circle cx="743.5" cy="201.5" r="3.8"/>
<circle cx="579.5" cy="191.5" r="3.8"/>
<circle cx="579.5" cy="201.5" r="3.8"/>
<circle cx="443.5" cy="301.5" r="3.8"/>
<circle cx="443.5" cy="290.5" r="3.8"/>
<circle cx="737.5" cy="247.5" r="3.8"/>
<circle cx="528.5" cy="195.5" r="3.8"/>
<circle cx="577.5" cy="180.5" r="3.8"/>
<circle cx="492.5" cy="168.5" r="3.8"/>
<circle cx="565.5" cy="199.5" r="3.8"/>
<circle cx="571.5" cy="289.5" r="3.8"/>
<circle cx="417.5" cy="199.5" r="3.8"/>
<circle cx="573.5" cy="290.5" r="3.8"/>
<circle cx="452.5" cy="290.5" r="3.8"/>
<circle cx="445.5" cy="200.5" r="3.8"/>
<circle cx="438.5" cy="200.5" r="3.8"/>
<circle cx="393.5" cy="200.5" r="3.8"/>
<circle cx="457.5" cy="198.5" r="3.8"/>
<circle cx="395.5" cy="200.5" r="3.8"/>
<circle cx="433.5" cy="198.5" r="3.8"/>
<circle cx="434.5" cy="198.5" r="3.8"/>
<circle cx="414.5" cy="197.5" r="3.8"/>
<circle cx="463.5" cy="291.5" r="3.8"/>
<circle cx="455.5" cy="287.5" r="3.8"/>
<circle cx="463.5" cy="291.5" r="3.8"/>
<circle cx="398.5" cy="201.5" r="3.8"/>
<circle cx="557.5" cy="201.5" r="3.8"/>
<circle cx="395.5" cy="197.5" r="3.8"/>
<circle cx="458.5" cy="197.5" r="3.8"/>
<circle cx="417.5" cy="201.5" r="3.8"/>
<circle cx="392.5" cy="201.5" r="3.8"/>
<circle cx="468.5" cy="286.5" r="3.8"/>
<circle cx="401.5" cy="202.5" r="3.8"/>
<circle cx="438.5" cy="196.5" r="3.8"/>
<circle cx="411.5" cy="202.5" r="3.8"/>
<circle cx="465.5" cy="286.5" r="3.8"/>
<circle cx="578.5" cy="202.5" r="3.8"/>
<circle cx="577.5" cy="202.5" r="3.8"/>
<circle cx="556.5" cy="199.5" r="3.8"/>
<circle cx="473.5" cy="286.5" r="3.8"/>
<circle cx="445.5" cy="202.5" r="3.8"/>
<circle cx="570.5" cy="202.5" r="3.8"/>
<circle cx="463.5" cy="196.5" r="3.8"/>
<circle cx="429.5" cy="202.5" r="3.8"/>
<circle cx="446.5" cy="196.5" r="3.8"/>
<circle cx="469.5" cy="285.5" r="3.8"/>
<circle cx="455.5" cy="285.5" r="3.8"/>
<circle cx="446.5" cy="285.5" r="3.8"/>
<circle cx="570.5" cy="203.5" r="3.8"/>
<circle cx="475.5" cy="287.5" r="3.8"/>
<circle cx="562.5" cy="183.5" r="3.8"/>
<circle cx="446.5" cy="285.5" r="3.8"/>
<circle cx="448.5" cy="203.5" r="3.8"/>
<circle cx="432.5" cy="284.5" r="3.8"/>
<circle cx="448.5" cy="204.5" r="3.8"/>
<circle cx="555.5" cy="194.5" r="3.8"/>
<circle cx="558.5" cy="294.5" r="3.8"/>
<circle cx="404.5" cy="204.5" r="3.8"/>
<circle cx="456.5" cy="284.5" r="3.8"/>
<circle cx="465.5" cy="294.5" r="3.8"/>
<circle cx="464.5" cy="294.5" r="3.8"/>
<circle cx="399.5" cy="204.5" r="3.8"/>
<circle cx="446.5" cy="205.5" r="3.8"/>
<circle cx="428.5" cy="205.5" r="3.8"/>
<circle cx="463.5" cy="283.5" r="3.8"/>
<circle cx="557.5" cy="205.5" r="3.8"/>
<circle cx="579.5" cy="205.5" r="3.8"/>
<circle cx="473.5" cy="283.5" r="3.8"/>
<circle cx="435.5" cy="193.5" r="3.8"/>
<circle cx="465.5" cy="295.5" r="3.8"/>
<circle cx="432.5" cy="282.5" r="3.8"/>
<circle cx="457.5" cy="282.5" r="3.8"/>
<circle cx="472.5" cy="192.5" r="3.8"/>
<circle cx="458.5" cy="192.5" r="3.8"/>
<circle cx="478.5" cy="291.5" r="3.8"/>
<circle cx="478.5" cy="291.5" r="3.8"/>
<circle cx="454.5" cy="192.5" r="3.8"/>
<circle cx="559.5" cy="191.5" r="3.8"/>
<circle cx="551.5" cy="282.5" r="3.8"/>
<circle cx="478.5" cy="292.5" r="3.8"/>
<circle cx="558.5" cy="281.5" r="3.8"/>
<circle cx="461.5" cy="297.5" r="3.8"/>
<circle cx="551.5" cy="187.5" r="3.8"/>
<circle cx="479.5" cy="292.5" r="3.8"/>
<circle cx="446.5" cy="281.5" r="3.8"/>
<circle cx="585.5" cy="207.5" r="3.8"/>
<circle cx="451.5" cy="280.5" r="3.8"/>
<circle cx="562.5" cy="188.5" r="3.8"/>
<circle cx="468.5" cy="280.5" r="3.8"/>
<circle cx="550.5" cy="298.5" r="3.8"/>
<circle cx="547.5" cy="188.5" r="3.8"/>
<circle cx="559.5" cy="208.5" r="3.8"/>
<circle cx="562.5" cy="189.5" r="3.8"/>
<circle cx="448.5" cy="279.5" r="3.8"/>
<circle cx="481.5" cy="294.5" r="3.8"/>
<circle cx="536.5" cy="189.5" r="3.8"/>
<circle cx="458.5" cy="189.5" r="3.8"/>
<circle cx="556.5" cy="190.5" r="3.8"/>
<circle cx="549.5" cy="190.5" r="3.8"/>
<circle cx="422.5" cy="210.5" r="3.8"/>
<circle cx="548.5" cy="205.5" r="3.8"/>
<circle cx="553.5" cy="210.5" r="3.8"/>
<circle cx="434.5" cy="198.5" r="3.8"/>
<circle cx="380.5" cy="263.5" r="3.8"/>
<circle cx="422.5" cy="278.5" r="3.8"/>
<circle cx="482.5" cy="289.5" r="3.8"/>
<circle cx="412.5" cy="210.5" r="3.8"/>
<circle cx="625.5" cy="228.5" r="3.8"/>
<circle cx="548.5" cy="197.5" r="3.8"/>
<circle cx="548.5" cy="207.5" r="3.8"/>
<circle cx="555.5" cy="190.5" r="3.8"/>
<circle cx="470.5" cy="188.5" r="3.8"/>
<circle cx="553.5" cy="210.5" r="3.8"/>
<circle cx="587.5" cy="210.5" r="3.8"/>
<circle cx="482.5" cy="300.5" r="3.8"/>
<circle cx="538.5" cy="190.5" r="3.8"/>
<circle cx="543.5" cy="190.5" r="3.8"/>
<circle cx="691.5" cy="229.5" r="3.8"/>
<circle cx="553.5" cy="277.5" r="3.8"/>
<circle cx="382.5" cy="264.5" r="3.8"/>
<circle cx="438.5" cy="197.5" r="3.8"/>
<circle cx="477.5" cy="187.5" r="3.8"/>
<circle cx="377.5" cy="263.5" r="3.8"/>
<circle cx="436.5" cy="199.5" r="3.8"/>
<circle cx="555.5" cy="211.5" r="3.8"/>
<circle cx="630.5" cy="227.5" r="3.8"/>
<circle cx="421.5" cy="211.5" r="3.8"/>
<circle cx="547.5" cy="285.5" r="3.8"/>
<circle cx="483.5" cy="294.5" r="3.8"/>
<circle cx="547.5" cy="211.5" r="3.8"/>
<circle cx="399.5" cy="197.5" r="3.8"/>
<circle cx="432.5" cy="211.5" r="3.8"/>
<circle cx="557.5" cy="211.5" r="3.8"/>
<circle cx="556.5" cy="187.5" r="3.8"/>
<circle cx="376.5" cy="264.5" r="3.8"/>
<circle cx="422.5" cy="277.5" r="3.8"/>
<circle cx="556.5" cy="276.5" r="3.8"/>
<circle cx="623.5" cy="230.5" r="3.8"/>
<circle cx="566.5" cy="192.5" r="3.8"/>
<circle cx="408.5" cy="212.5" r="3.8"/>
<circle cx="553.5" cy="276.5" r="3.8"/>
<circle cx="419.5" cy="200.5" r="3.8"/>
<circle cx="552.5" cy="212.5" r="3.8"/>
<circle cx="546.5" cy="212.5" r="3.8"/>
<circle cx="395.5" cy="212.5" r="3.8"/>
<circle cx="546.5" cy="200.5" r="3.8"/>
<circle cx="433.5" cy="276.5" r="3.8"/>
<circle cx="546.5" cy="285.5" r="3.8"/>
<circle cx="546.5" cy="208.5" r="3.8"/>
<circle cx="560.5" cy="276.5" r="3.8"/>
<circle cx="430.5" cy="276.5" r="3.8"/>
<circle cx="484.5" cy="293.5" r="3.8"/>
<circle cx="548.5" cy="276.5" r="3.8"/>
<circle cx="621.5" cy="228.5" r="3.8"/>
<circle cx="438.5" cy="212.5" r="3.8"/>
<circle cx="409.5" cy="212.5" r="3.8"/>
<circle cx="543.5" cy="192.5" r="3.8"/>
<circle cx="407.5" cy="212.5" r="3.8"/>
<circle cx="420.5" cy="275.5" r="3.8"/>
<circle cx="438.5" cy="275.5" r="3.8"/>
<circle cx="438.5" cy="213.5" r="3.8"/>
<circle cx="429.5" cy="275.5" r="3.8"/>
<circle cx="563.5" cy="275.5" r="3.8"/>
<circle cx="548.5" cy="213.5" r="3.8"/>
<circle cx="456.5" cy="185.5" r="3.8"/>
<circle cx="571.5" cy="275.5" r="3.8"/>
<circle cx="418.5" cy="201.5" r="3.8"/>
<circle cx="559.5" cy="193.5" r="3.8"/>
<circle cx="435.5" cy="275.5" r="3.8"/>
<circle cx="403.5" cy="202.5" r="3.8"/>
<circle cx="545.5" cy="288.5" r="3.8"/>
<circle cx="549.5" cy="213.5" r="3.8"/>
<circle cx="382.5" cy="260.5" r="3.8"/>
<circle cx="394.5" cy="213.5" r="3.8"/>
<circle cx="396.5" cy="195.5" r="3.8"/>
<circle cx="399.5" cy="195.5" r="3.8"/>
<circle cx="543.5" cy="193.5" r="3.8"/>
<circle cx="570.5" cy="213.5" r="3.8"/>
<circle cx="586.5" cy="213.5" r="3.8"/>
<circle cx="544.5" cy="200.5" r="3.8"/>
<circle cx="436.5" cy="274.5" r="3.8"/>
<circle cx="693.5" cy="232.5" r="3.8"/>
<circle cx="408.5" cy="214.5" r="3.8"/>
<circle cx="485.5" cy="285.5" r="3.8"/>
<circle cx="693.5" cy="224.5" r="3.8"/>
<circle cx="544.5" cy="191.5" r="3.8"/>
<circle cx="581.5" cy="214.5" r="3.8"/>
<circle cx="440.5" cy="202.5" r="3.8"/>
<circle cx="440.5" cy="194.5" r="3.8"/>
<circle cx="456.5" cy="184.5" r="3.8"/>
<circle cx="626.5" cy="232.5" r="3.8"/>
<circle cx="415.5" cy="214.5" r="3.8"/>
<circle cx="486.5" cy="297.5" r="3.8"/>
<circle cx="569.5" cy="274.5" r="3.8"/>
<circle cx="590.5" cy="214.5" r="3.8"/>
<circle cx="566.5" cy="214.5" r="3.8"/>
<circle cx="536.5" cy="194.5" r="3.8"/>
<circle cx="423.5" cy="214.5" r="3.8"/>
<circle cx="424.5" cy="273.5" r="3.8"/>
<circle cx="543.5" cy="281.5" r="3.8"/>
<circle cx="561.5" cy="215.5" r="3.8"/>
<circle cx="479.5" cy="183.5" r="3.8"/>
<circle cx="436.5" cy="193.5" r="3.8"/>
<circle cx="573.5" cy="273.5" r="3.8"/>
<circle cx="435.5" cy="273.5" r="3.8"/>
<circle cx="400.5" cy="204.5" r="3.8"/>
<circle cx="423.5" cy="204.5" r="3.8"/>
<circle cx="557.5" cy="272.5" r="3.8"/>
<circle cx="575.5" cy="215.5" r="3.8"/>
<circle cx="542.5" cy="212.5" r="3.8"/>
<circle cx="372.5" cy="263.5" r="3.8"/>
<circle cx="564.5" cy="272.5" r="3.8"/>
<circle cx="466.5" cy="182.5" r="3.8"/>
<circle cx="425.5" cy="204.5" r="3.8"/>
<circle cx="558.5" cy="216.5" r="3.8"/>
<circle cx="466.5" cy="182.5" r="3.8"/>
<circle cx="430.5" cy="216.5" r="3.8"/>
<circle cx="402.5" cy="216.5" r="3.8"/>
<circle cx="372.5" cy="264.5" r="3.8"/>
<circle cx="417.5" cy="216.5" r="3.8"/>
<circle cx="553.5" cy="216.5" r="3.8"/>
<circle cx="418.5" cy="272.5" r="3.8"/>
<circle cx="414.5" cy="272.5" r="3.8"/>
<circle cx="435.5" cy="272.5" r="3.8"/>
<circle cx="541.5" cy="286.5" r="3.8"/>
<circle cx="430.5" cy="216.5" r="3.8"/>
<circle cx="656.5" cy="221.5" r="3.8"/>
<circle cx="541.5" cy="277.5" r="3.8"/>
<circle cx="569.5" cy="217.5" r="3.8"/>
<circle cx="427.5" cy="271.5" r="3.8"/>
<circle cx="541.5" cy="203.5" r="3.8"/>
<circle cx="405.5" cy="271.5" r="3.8"/>
<circle cx="541.5" cy="211.5" r="3.8"/>
<circle cx="425.5" cy="205.5" r="3.8"/>
<circle cx="567.5" cy="197.5" r="3.8"/>
<circle cx="568.5" cy="271.5" r="3.8"/>
<circle cx="551.5" cy="197.5" r="3.8"/>
<circle cx="557.5" cy="197.5" r="3.8"/>
<circle cx="489.5" cy="288.5" r="3.8"/>
<circle cx="581.5" cy="271.5" r="3.8"/>
<circle cx="427.5" cy="271.5" r="3.8"/>
<circle cx="427.5" cy="206.5" r="3.8"/>
<circle cx="489.5" cy="284.5" r="3.8"/>
<circle cx="421.5" cy="270.5" r="3.8"/>
<circle cx="540.5" cy="203.5" r="3.8"/>
<circle cx="549.5" cy="217.5" r="3.8"/>
<circle cx="558.5" cy="218.5" r="3.8"/>
<circle cx="564.5" cy="218.5" r="3.8"/>
<circle cx="559.5" cy="218.5" r="3.8"/>
<circle cx="489.5" cy="293.5" r="3.8"/>
<circle cx="370.5" cy="260.5" r="3.8"/>
<circle cx="566.5" cy="198.5" r="3.8"/>
<circle cx="570.5" cy="218.5" r="3.8"/>
<circle cx="540.5" cy="199.5" r="3.8"/>
<circle cx="540.5" cy="282.5" r="3.8"/>
<circle cx="540.5" cy="211.5" r="3.8"/>
<circle cx="675.5" cy="237.5" r="3.8"/>
<circle cx="407.5" cy="207.5" r="3.8"/>
<circle cx="404.5" cy="269.5" r="3.8"/>
<circle cx="539.5" cy="203.5" r="3.8"/>
<circle cx="410.5" cy="219.5" r="3.8"/>
<circle cx="580.5" cy="219.5" r="3.8"/>
<circle cx="572.5" cy="269.5" r="3.8"/>
<circle cx="539.5" cy="203.5" r="3.8"/>
<circle cx="404.5" cy="208.5" r="3.8"/>
<circle cx="570.5" cy="219.5" r="3.8"/>
<circle cx="614.5" cy="222.5" r="3.8"/>
<circle cx="574.5" cy="220.5" r="3.8"/>
<circle cx="383.5" cy="220.5" r="3.8"/>
<circle cx="407.5" cy="208.5" r="3.8"/>
<circle cx="571.5" cy="268.5" r="3.8"/>
<circle cx="562.5" cy="220.5" r="3.8"/>
<circle cx="584.5" cy="220.5" r="3.8"/>
<circle cx="560.5" cy="220.5" r="3.8"/>
<circle cx="569.5" cy="220.5" r="3.8"/>
<circle cx="402.5" cy="268.5" r="3.8"/>
<circle cx="548.5" cy="200.5" r="3.8"/>
<circle cx="538.5" cy="289.5" r="3.8"/>
<circle cx="585.5" cy="268.5" r="3.8"/>
<circle cx="555.5" cy="200.5" r="3.8"/>
<circle cx="568.5" cy="220.5" r="3.8"/>
<circle cx="568.5" cy="220.5" r="3.8"/>
<circle cx="573.5" cy="220.5" r="3.8"/>
<circle cx="401.5" cy="220.5" r="3.8"/>
<circle cx="403.5" cy="209.5" r="3.8"/>
<circle cx="403.5" cy="209.5" r="3.8"/>
<circle cx="537.5" cy="204.5" r="3.8"/>
<circle cx="561.5" cy="201.5" r="3.8"/>
<circle cx="417.5" cy="221.5" r="3.8"/>
<circle cx="720.5" cy="287.5" r="3.8"/>
<circle cx="574.5" cy="201.5" r="3.8"/>
<circle cx="406.5" cy="267.5" r="3.8"/>
<circle cx="417.5" cy="267.5" r="3.8"/>
<circle cx="491.5" cy="177.5" r="3.8"/>
<circle cx="412.5" cy="221.5" r="3.8"/>
<circle cx="559.5" cy="201.5" r="3.8"/>
<circle cx="565.5" cy="221.5" r="3.8"/>
<circle cx="582.5" cy="221.5" r="3.8"/>
<circle cx="405.5" cy="267.5" r="3.8"/>
<circle cx="474.5" cy="176.5" r="3.8"/>
<circle cx="558.5" cy="222.5" r="3.8"/>
<circle cx="406.5" cy="210.5" r="3.8"/>
<circle cx="720.5" cy="286.5" r="3.8"/>
<circle cx="562.5" cy="222.5" r="3.8"/>
<circle cx="366.5" cy="259.5" r="3.8"/>
<circle cx="562.5" cy="222.5" r="3.8"/>
<circle cx="366.5" cy="255.5" r="3.8"/>
<circle cx="559.5" cy="222.5" r="3.8"/>
<circle cx="587.5" cy="266.5" r="3.8"/>
<circle cx="396.5" cy="266.5" r="3.8"/>
<circle cx="536.5" cy="201.5" r="3.8"/>
<circle cx="580.5" cy="266.5" r="3.8"/>
<circle cx="561.5" cy="222.5" r="3.8"/>
<circle cx="408.5" cy="266.5" r="3.8"/>
<circle cx="611.5" cy="222.5" r="3.8"/>
<circle cx="403.5" cy="265.5" r="3.8"/>
<circle cx="535.5" cy="301.5" r="3.8"/>
<circle cx="535.5" cy="281.5" r="3.8"/>
<circle cx="410.5" cy="211.5" r="3.8"/>
<circle cx="404.5" cy="223.5" r="3.8"/>
<circle cx="397.5" cy="265.5" r="3.8"/>
<circle cx="445.5" cy="185.5" r="3.8"/>
<circle cx="559.5" cy="203.5" r="3.8"/>
<circle cx="589.5" cy="265.5" r="3.8"/>
<circle cx="535.5" cy="286.5" r="3.8"/>
<circle cx="602.5" cy="223.5" r="3.8"/>
<circle cx="371.5" cy="224.5" r="3.8"/>
<circle cx="534.5" cy="196.5" r="3.8"/>
<circle cx="565.5" cy="224.5" r="3.8"/>
<circle cx="597.5" cy="224.5" r="3.8"/>
<circle cx="364.5" cy="259.5" r="3.8"/>
<circle cx="407.5" cy="264.5" r="3.8"/>
<circle cx="398.5" cy="224.5" r="3.8"/>
<circle cx="534.5" cy="200.5" r="3.8"/>
<circle cx="392.5" cy="264.5" r="3.8"/>
<circle cx="409.5" cy="213.5" r="3.8"/>
<circle cx="610.5" cy="224.5" r="3.8"/>
<circle cx="411.5" cy="213.5" r="3.8"/>
<circle cx="397.5" cy="264.5" r="3.8"/>
<circle cx="496.5" cy="290.5" r="3.8"/>
<circle cx="402.5" cy="224.5" r="3.8"/>
<circle cx="581.5" cy="204.5" r="3.8"/>
<circle cx="580.5" cy="264.5" r="3.8"/>
<circle cx="578.5" cy="224.5" r="3.8"/>
<circle cx="496.5" cy="289.5" r="3.8"/>
<circle cx="594.5" cy="224.5" r="3.8"/>
<circle cx="559.5" cy="224.5" r="3.8"/>
<circle cx="496.5" cy="177.5" r="3.8"/>
<circle cx="589.5" cy="225.5" r="3.8"/>
<circle cx="569.5" cy="205.5" r="3.8"/>
<circle cx="402.5" cy="263.5" r="3.8"/>
<circle cx="496.5" cy="289.5" r="3.8"/>
<circle cx="567.5" cy="205.5" r="3.8"/>
<circle cx="533.5" cy="208.5" r="3.8"/>
<circle cx="533.5" cy="186.5" r="3.8"/>
<circle cx="609.5" cy="224.5" r="3.8"/>
<circle cx="533.5" cy="200.5" r="3.8"/>
<circle cx="567.5" cy="205.5" r="3.8"/>
<circle cx="533.5" cy="207.5" r="3.8"/>
<circle cx="411.5" cy="213.5" r="3.8"/>
<circle cx="412.5" cy="214.5" r="3.8"/>
<circle cx="609.5" cy="214.5" r="3.8"/>
<circle cx="584.5" cy="263.5" r="3.8"/>
<circle cx="566.5" cy="225.5" r="3.8"/>
<circle cx="362.5" cy="259.5" r="3.8"/>
<circle cx="581.5" cy="205.5" r="3.8"/>
<circle cx="497.5" cy="287.5" r="3.8"/>
<circle cx="366.5" cy="262.5" r="3.8"/>
<circle cx="581.5" cy="225.5" r="3.8"/>
<circle cx="594.5" cy="262.5" r="3.8"/>
<circle cx="532.5" cy="203.5" r="3.8"/>
<circle cx="402.5" cy="214.5" r="3.8"/>
<circle cx="582.5" cy="206.5" r="3.8"/>
<circle cx="532.5" cy="288.5" r="3.8"/>
<circle cx="362.5" cy="226.5" r="3.8"/>
<circle cx="581.5" cy="206.5" r="3.8"/>
<circle cx="594.5" cy="226.5" r="3.8"/>
<circle cx="569.5" cy="226.5" r="3.8"/>
<circle cx="408.5" cy="215.5" r="3.8"/>
<circle cx="584.5" cy="226.5" r="3.8"/>
<circle cx="586.5" cy="261.5" r="3.8"/>
<circle cx="498.5" cy="188.5" r="3.8"/>
<circle cx="489.5" cy="171.5" r="3.8"/>
<circle cx="531.5" cy="282.5" r="3.8"/>
<circle cx="392.5" cy="215.5" r="3.8"/>
<circle cx="570.5" cy="227.5" r="3.8"/>
<circle cx="361.5" cy="255.5" r="3.8"/>
<circle cx="367.5" cy="261.5" r="3.8"/>
<circle cx="531.5" cy="196.5" r="3.8"/>
<circle cx="499.5" cy="283.5" r="3.8"/>
<circle cx="583.5" cy="207.5" r="3.8"/>
<circle cx="386.5" cy="261.5" r="3.8"/>
<circle cx="578.5" cy="207.5" r="3.8"/>
<circle cx="530.5" cy="196.5" r="3.8"/>
<circle cx="530.5" cy="196.5" r="3.8"/>
<circle cx="584.5" cy="228.5" r="3.8"/>
<circle cx="390.5" cy="260.5" r="3.8"/>
<circle cx="360.5" cy="257.5" r="3.8"/>
<circle cx="499.5" cy="292.5" r="3.8"/>
<circle cx="606.5" cy="212.5" r="3.8"/>
<circle cx="407.5" cy="260.5" r="3.8"/>
<circle cx="572.5" cy="208.5" r="3.8"/>
<circle cx="568.5" cy="228.5" r="3.8"/>
<circle cx="455.5" cy="180.5" r="3.8"/>
<circle cx="360.5" cy="257.5" r="3.8"/>
<circle cx="606.5" cy="228.5" r="3.8"/>
<circle cx="359.5" cy="215.5" r="3.8"/>
<circle cx="500.5" cy="289.5" r="3.8"/>
<circle cx="529.5" cy="283.5" r="3.8"/>
<circle cx="500.5" cy="282.5" r="3.8"/>
<circle cx="591.5" cy="228.5" r="3.8"/>
<circle cx="630.5" cy="247.5" r="3.8"/>
<circle cx="407.5" cy="217.5" r="3.8"/>
<circle cx="529.5" cy="190.5" r="3.8"/>
<circle cx="564.5" cy="209.5" r="3.8"/>
<circle cx="363.5" cy="229.5" r="3.8"/>
<circle cx="372.5" cy="229.5" r="3.8"/>
<circle cx="586.5" cy="229.5" r="3.8"/>
<circle cx="398.5" cy="259.5" r="3.8"/>
<circle cx="569.5" cy="229.5" r="3.8"/>
<circle cx="529.5" cy="193.5" r="3.8"/>
<circle cx="434.5" cy="283.5" r="3.8"/>
<circle cx="605.5" cy="228.5" r="3.8"/>
<circle cx="501.5" cy="185.5" r="3.8"/>
<circle cx="605.5" cy="232.5" r="3.8"/>
<circle cx="604.5" cy="213.5" r="3.8"/>
<circle cx="405.5" cy="218.5" r="3.8"/>
<circle cx="586.5" cy="258.5" r="3.8"/>
<circle cx="398.5" cy="218.5" r="3.8"/>
<circle cx="439.5" cy="283.5" r="3.8"/>
<circle cx="601.5" cy="230.5" r="3.8"/>
<circle cx="574.5" cy="210.5" r="3.8"/>
<circle cx="388.5" cy="258.5" r="3.8"/>
<circle cx="528.5" cy="199.5" r="3.8"/>
<circle cx="396.5" cy="258.5" r="3.8"/>
<circle cx="528.5" cy="205.5" r="3.8"/>
<circle cx="604.5" cy="211.5" r="3.8"/>
<circle cx="590.5" cy="258.5" r="3.8"/>
<circle cx="384.5" cy="258.5" r="3.8"/>
<circle cx="502.5" cy="192.5" r="3.8"/>
<circle cx="528.5" cy="199.5" r="3.8"/>
<circle cx="433.5" cy="284.5" r="3.8"/>
<circle cx="393.5" cy="219.5" r="3.8"/>
<circle cx="414.5" cy="219.5" r="3.8"/>
<circle cx="527.5" cy="200.5" r="3.8"/>
<circle cx="603.5" cy="236.5" r="3.8"/>
<circle cx="378.5" cy="231.5" r="3.8"/>
<circle cx="357.5" cy="257.5" r="3.8"/>
<circle cx="527.5" cy="193.5" r="3.8"/>
<circle cx="603.5" cy="247.5" r="3.8"/>
<circle cx="357.5" cy="262.5" r="3.8"/>
<circle cx="696.5" cy="277.5" r="3.8"/>
<circle cx="527.5" cy="191.5" r="3.8"/>
<circle cx="385.5" cy="257.5" r="3.8"/>
<circle cx="526.5" cy="284.5" r="3.8"/>
<circle cx="356.5" cy="252.5" r="3.8"/>
<circle cx="616.5" cy="250.5" r="3.8"/>
<circle cx="382.5" cy="232.5" r="3.8"/>
<circle cx="362.5" cy="220.5" r="3.8"/>
<circle cx="392.5" cy="220.5" r="3.8"/>
<circle cx="526.5" cy="281.5" r="3.8"/>
<circle cx="504.5" cy="283.5" r="3.8"/>
<circle cx="405.5" cy="221.5" r="3.8"/>
<circle cx="526.5" cy="186.5" r="3.8"/>
<circle cx="526.5" cy="190.5" r="3.8"/>
<circle cx="433.5" cy="286.5" r="3.8"/>
<circle cx="525.5" cy="194.5" r="3.8"/>
<circle cx="576.5" cy="232.5" r="3.8"/>
<circle cx="355.5" cy="217.5" r="3.8"/>
<circle cx="375.5" cy="255.5" r="3.8"/>
<circle cx="525.5" cy="282.5" r="3.8"/>
<circle cx="525.5" cy="291.5" r="3.8"/>
<circle cx="695.5" cy="275.5" r="3.8"/>
<circle cx="396.5" cy="255.5" r="3.8"/>
<circle cx="699.5" cy="275.5" r="3.8"/>
<circle cx="603.5" cy="233.5" r="3.8"/>
<circle cx="697.5" cy="275.5" r="3.8"/>
<circle cx="525.5" cy="290.5" r="3.8"/>
<circle cx="600.5" cy="245.5" r="3.8"/>
<circle cx="524.5" cy="280.5" r="3.8"/>
<circle cx="506.5" cy="284.5" r="3.8"/>
<circle cx="367.5" cy="254.5" r="3.8"/>
<circle cx="357.5" cy="222.5" r="3.8"/>
<circle cx="367.5" cy="254.5" r="3.8"/>
<circle cx="524.5" cy="188.5" r="3.8"/>
<circle cx="437.5" cy="288.5" r="3.8"/>
<circle cx="581.5" cy="214.5" r="3.8"/>
<circle cx="364.5" cy="253.5" r="3.8"/>
<circle cx="411.5" cy="223.5" r="3.8"/>
<circle cx="356.5" cy="253.5" r="3.8"/>
<circle cx="616.5" cy="203.5" r="3.8"/>
<circle cx="523.5" cy="286.5" r="3.8"/>
<circle cx="615.5" cy="253.5" r="3.8"/>
<circle cx="353.5" cy="253.5" r="3.8"/>
<circle cx="523.5" cy="282.5" r="3.8"/>
<circle cx="523.5" cy="197.5" r="3.8"/>
<circle cx="585.5" cy="235.5" r="3.8"/>
<circle cx="599.5" cy="251.5" r="3.8"/>
<circle cx="523.5" cy="287.5" r="3.8"/>
<circle cx="446.5" cy="289.5" r="3.8"/>
<circle cx="579.5" cy="235.5" r="3.8"/>
<circle cx="357.5" cy="235.5" r="3.8"/>
<circle cx="395.5" cy="224.5" r="3.8"/>
<circle cx="595.5" cy="235.5" r="3.8"/>
<circle cx="367.5" cy="252.5" r="3.8"/>
<circle cx="507.5" cy="176.5" r="3.8"/>
<circle cx="589.5" cy="236.5" r="3.8"/>
<circle cx="716.5" cy="254.5" r="3.8"/>
<circle cx="586.5" cy="236.5" r="3.8"/>
<circle cx="624.5" cy="254.5" r="3.8"/>
<circle cx="584.5" cy="216.5" r="3.8"/>
<circle cx="629.5" cy="255.5" r="3.8"/>
<circle cx="522.5" cy="186.5" r="3.8"/>
<circle cx="585.5" cy="236.5" r="3.8"/>
<circle cx="449.5" cy="290.5" r="3.8"/>
<circle cx="521.5" cy="278.5" r="3.8"/>
<circle cx="613.5" cy="202.5" r="3.8"/>
<circle cx="365.5" cy="252.5" r="3.8"/>
<circle cx="632.5" cy="255.5" r="3.8"/>
<circle cx="583.5" cy="237.5" r="3.8"/>
<circle cx="597.5" cy="249.5" r="3.8"/>
<circle cx="508.5" cy="182.5" r="3.8"/>
<circle cx="521.5" cy="290.5" r="3.8"/>
<circle cx="597.5" cy="232.5" r="3.8"/>
<circle cx="597.5" cy="255.5" r="3.8"/>
<circle cx="448.5" cy="290.5" r="3.8"/>
<circle cx="396.5" cy="225.5" r="3.8"/>
<circle cx="351.5" cy="233.5" r="3.8"/>
<circle cx="597.5" cy="205.5" r="3.8"/>
<circle cx="609.5" cy="256.5" r="3.8"/>
<circle cx="596.5" cy="233.5" r="3.8"/>
<circle cx="597.5" cy="256.5" r="3.8"/>
<circle cx="350.5" cy="244.5" r="3.8"/>
<circle cx="520.5" cy="288.5" r="3.8"/>
<circle cx="520.5" cy="283.5" r="3.8"/>
<circle cx="445.5" cy="291.5" r="3.8"/>
<circle cx="623.5" cy="257.5" r="3.8"/>
<circle cx="596.5" cy="240.5" r="3.8"/>
<circle cx="720.5" cy="224.5" r="3.8"/>
<circle cx="589.5" cy="238.5" r="3.8"/>
<circle cx="446.5" cy="292.5" r="3.8"/>
<circle cx="519.5" cy="284.5" r="3.8"/>
<circle cx="595.5" cy="243.5" r="3.8"/>
<circle cx="585.5" cy="239.5" r="3.8"/>
<circle cx="382.5" cy="228.5" r="3.8"/>
<circle cx="451.5" cy="293.5" r="3.8"/>
<circle cx="384.5" cy="228.5" r="3.8"/>
<circle cx="615.5" cy="268.5" r="3.8"/>
<circle cx="385.5" cy="228.5" r="3.8"/>
<circle cx="475.5" cy="168.5" r="3.8"/>
<circle cx="518.5" cy="197.5" r="3.8"/>
<circle cx="449.5" cy="294.5" r="3.8"/>
<circle cx="452.5" cy="294.5" r="3.8"/>
<circle cx="347.5" cy="248.5" r="3.8"/>
<circle cx="593.5" cy="204.5" r="3.8"/>
<circle cx="593.5" cy="204.5" r="3.8"/>
<circle cx="366.5" cy="232.5" r="3.8"/>
<circle cx="347.5" cy="259.5" r="3.8"/>
<circle cx="386.5" cy="229.5" r="3.8"/>
<circle cx="593.5" cy="253.5" r="3.8"/>
<circle cx="609.5" cy="260.5" r="3.8"/>
<circle cx="516.5" cy="284.5" r="3.8"/>
<circle cx="358.5" cy="231.5" r="3.8"/>
<circle cx="612.5" cy="269.5" r="3.8"/>
<circle cx="375.5" cy="231.5" r="3.8"/>
<circle cx="613.5" cy="266.5" r="3.8"/>
<circle cx="696.5" cy="266.5" r="3.8"/>
<circle cx="345.5" cy="252.5" r="3.8"/>
<circle cx="591.5" cy="202.5" r="3.8"/>
<circle cx="515.5" cy="177.5" r="3.8"/>
<circle cx="515.5" cy="286.5" r="3.8"/>
<circle cx="515.5" cy="284.5" r="3.8"/>
<circle cx="591.5" cy="245.5" r="3.8"/>
<circle cx="587.5" cy="243.5" r="3.8"/>
<circle cx="359.5" cy="230.5" r="3.8"/>
<circle cx="611.5" cy="272.5" r="3.8"/>
<circle cx="452.5" cy="297.5" r="3.8"/>
<circle cx="590.5" cy="204.5" r="3.8"/>
<circle cx="371.5" cy="230.5" r="3.8"/>
<circle cx="590.5" cy="224.5" r="3.8"/>
<circle cx="590.5" cy="248.5" r="3.8"/>
<circle cx="697.5" cy="262.5" r="3.8"/>
<circle cx="590.5" cy="219.5" r="3.8"/>
<circle cx="688.5" cy="262.5" r="3.8"/>
<circle cx="516.5" cy="291.5" r="3.8"/>
<circle cx="513.5" cy="178.5" r="3.8"/>
<circle cx="455.5" cy="298.5" r="3.8"/>
<circle cx="692.5" cy="263.5" r="3.8"/>
<circle cx="589.5" cy="213.5" r="3.8"/>
<circle cx="513.5" cy="280.5" r="3.8"/>
<circle cx="354.5" cy="228.5" r="3.8"/>
<circle cx="621.5" cy="263.5" r="3.8"/>
<circle cx="609.5" cy="267.5" r="3.8"/>
<circle cx="589.5" cy="257.5" r="3.8"/>
<circle cx="606.5" cy="264.5" r="3.8"/>
<circle cx="513.5" cy="278.5" r="3.8"/>
<circle cx="513.5" cy="282.5" r="3.8"/>
<circle cx="376.5" cy="228.5" r="3.8"/>
<circle cx="512.5" cy="282.5" r="3.8"/>
<circle cx="517.5" cy="188.5" r="3.8"/>
<circle cx="342.5" cy="241.5" r="3.8"/>
<circle cx="588.5" cy="263.5" r="3.8"/>
<circle cx="627.5" cy="262.5" r="3.8"/>
<circle cx="512.5" cy="282.5" r="3.8"/>
<circle cx="518.5" cy="284.5" r="3.8"/>
<circle cx="697.5" cy="262.5" r="3.8"/>
<circle cx="481.5" cy="168.5" r="3.8"/>
<circle cx="608.5" cy="263.5" r="3.8"/>
<circle cx="608.5" cy="272.5" r="3.8"/>
<circle cx="342.5" cy="247.5" r="3.8"/>
<circle cx="587.5" cy="207.5" r="3.8"/>
<circle cx="518.5" cy="291.5" r="3.8"/>
<circle cx="587.5" cy="252.5" r="3.8"/>
<circle cx="341.5" cy="240.5" r="3.8"/>
<circle cx="586.5" cy="220.5" r="3.8"/>
<circle cx="351.5" cy="247.5" r="3.8"/>
<circle cx="586.5" cy="214.5" r="3.8"/>
<circle cx="464.5" cy="301.5" r="3.8"/>
<circle cx="586.5" cy="265.5" r="3.8"/>
<circle cx="586.5" cy="265.5" r="3.8"/>
<circle cx="586.5" cy="227.5" r="3.8"/>
<circle cx="622.5" cy="267.5" r="3.8"/>
<circle cx="632.5" cy="260.5" r="3.8"/>
<circle cx="609.5" cy="259.5" r="3.8"/>
<circle cx="509.5" cy="282.5" r="3.8"/>
<circle cx="509.5" cy="290.5" r="3.8"/>
<circle cx="621.5" cy="259.5" r="3.8"/>
<circle cx="509.5" cy="280.5" r="3.8"/>
<circle cx="509.5" cy="291.5" r="3.8"/>
<circle cx="614.5" cy="268.5" r="3.8"/>
<circle cx="485.5" cy="300.5" r="3.8"/>
<circle cx="613.5" cy="258.5" r="3.8"/>
<circle cx="584.5" cy="242.5" r="3.8"/>
<circle cx="584.5" cy="255.5" r="3.8"/>
<circle cx="485.5" cy="303.5" r="3.8"/>
<circle cx="584.5" cy="198.5" r="3.8"/>
<circle cx="508.5" cy="282.5" r="3.8"/>
<circle cx="508.5" cy="282.5" r="3.8"/>
<circle cx="695.5" cy="258.5" r="3.8"/>
<circle cx="583.5" cy="223.5" r="3.8"/>
<circle cx="607.5" cy="257.5" r="3.8"/>
<circle cx="483.5" cy="304.5" r="3.8"/>
<circle cx="507.5" cy="278.5" r="3.8"/>
<circle cx="583.5" cy="193.5" r="3.8"/>
<circle cx="629.5" cy="257.5" r="3.8"/>
<circle cx="583.5" cy="212.5" r="3.8"/>
<circle cx="469.5" cy="305.5" r="3.8"/>
<circle cx="471.5" cy="305.5" r="3.8"/>
<circle cx="603.5" cy="270.5" r="3.8"/>
<circle cx="582.5" cy="218.5" r="3.8"/>
<circle cx="506.5" cy="285.5" r="3.8"/>
<circle cx="582.5" cy="222.5" r="3.8"/>
<circle cx="487.5" cy="305.5" r="3.8"/>
<circle cx="506.5" cy="177.5" r="3.8"/>
<circle cx="524.5" cy="288.5" r="3.8"/>
<circle cx="605.5" cy="271.5" r="3.8"/>
<circle cx="583.5" cy="271.5" r="3.8"/>
<circle cx="459.5" cy="306.5" r="3.8"/>
<circle cx="524.5" cy="284.5" r="3.8"/>
<circle cx="470.5" cy="306.5" r="3.8"/>
<circle cx="581.5" cy="263.5" r="3.8"/>
<circle cx="581.5" cy="270.5" r="3.8"/>
<circle cx="525.5" cy="283.5" r="3.8"/>
<circle cx="583.5" cy="272.5" r="3.8"/>
<circle cx="525.5" cy="182.5" r="3.8"/>
<circle cx="463.5" cy="307.5" r="3.8"/>
<circle cx="625.5" cy="254.5" r="3.8"/>
<circle cx="526.5" cy="189.5" r="3.8"/>
<circle cx="580.5" cy="215.5" r="3.8"/>
<circle cx="580.5" cy="196.5" r="3.8"/>
<circle cx="526.5" cy="186.5" r="3.8"/>
<circle cx="503.5" cy="275.5" r="3.8"/>
<circle cx="599.5" cy="254.5" r="3.8"/>
<circle cx="463.5" cy="309.5" r="3.8"/>
<circle cx="627.5" cy="253.5" r="3.8"/>
<circle cx="502.5" cy="281.5" r="3.8"/>
<circle cx="606.5" cy="274.5" r="3.8"/>
<circle cx="598.5" cy="258.5" r="3.8"/>
<circle cx="502.5" cy="275.5" r="3.8"/>
<circle cx="577.5" cy="226.5" r="3.8"/>
<circle cx="577.5" cy="216.5" r="3.8"/>
<circle cx="501.5" cy="276.5" r="3.8"/>
<circle cx="607.5" cy="276.5" r="3.8"/>
<circle cx="575.5" cy="220.5" r="3.8"/>
<circle cx="575.5" cy="228.5" r="3.8"/>
<circle cx="498.5" cy="280.5" r="3.8"/>
<circle cx="611.5" cy="248.5" r="3.8"/>
<circle cx="572.5" cy="221.5" r="3.8"/>
</g>
<polygon points="389.4,240.5 393.2,232.2 397.9,227.6 412.2,224.8 423.6,222.1 433.1,215.6 449.2,206.4 456.8,200.9 464.4,196.3 480.6,193.6 494.8,194.5 511.0,194.5 518.6,200.0 530.0,206.4 544.2,212.0 557.5,223.9 575.6,232.2 587.0,241.4 600.3,245.1 598.4,249.7 585.1,257.0 577.5,265.3 568.9,268.1 563.2,270.8 553.7,277.3 544.2,286.5 530.9,286.5 521.4,281.9 511.9,283.7 506.2,289.2 490.1,286.5 473.9,284.6 458.7,283.7 450.2,279.1 442.6,272.7 426.4,272.7 416.9,268.1 409.3,261.6 399.8,255.2 393.2,248.8" fill="#d3d3d3"/>
<polygon points="113.3,228.09 133.8,228.67 154.3,229.26 174.8,229.84 195.3,230.43 215.8,231.01 236.3,231.59 256.9,232.17 277.4,232.75 297.9,233.33 318.4,233.90 338.9,234.47 359.4,235.04 379.9,235.60 400.4,236.15 420.9,236.68 441.4,237.20 461.9,237.68 482.4,238.11 502.9,238.47 523.4,238.78 544.0,239.03 564.5,239.25 585.0,239.44 605.5,239.62 626.0,239.78 646.5,239.94 667.0,240.09 687.5,240.24 708.0,240.39 728.5,240.53 749.0,240.67 769.5,240.81 790.0,240.95 810.6,241.09 831.1,241.23 851.6,241.36 872.1,241.50 892.6,241.63 913.1,241.77 933.6,241.90 933.6,251.30 913.1,250.73 892.6,250.17 872.1,249.61 851.6,249.05 831.1,248.49 810.6,247.93 790.0,247.37 769.5,246.81 749.0,246.25 728.5,245.69 708.0,245.14 687.5,244.59 667.0,244.04 646.5,243.49 626.0,242.95 605.5,242.42 585.0,241.90 564.5,241.40 544.0,240.92 523.4,240.47 502.9,240.08 482.4,239.75 461.9,239.48 441.4,239.26 420.9,239.08 400.4,238.92 379.9,238.77 359.4,238.63 338.9,238.50 318.4,238.38 297.9,238.25 277.4,238.13 256.9,238.01 236.3,237.90 215.8,237.78 195.3,237.66 174.8,237.55 154.3,237.44 133.8,237.32 113.3,237.21" fill="#4c72b0" fill-opacity="0.15"/>
<line x1="113.3" y1="232.15" x2="933.6" y2="246.1" stroke="#4c72b0" stroke-width="1.45" stroke-linecap="square"/>
<rect x="72.0" y="32.0" width="902.00" height="493.00" fill="none" stroke="#cccccc" stroke-width="1.74"/>
<g stroke="#1b1b1b" stroke-width="1.39" fill="#fff">
<rect x="90.5" y="426.5" width="181.00" height="45.00"/>
<rect x="271.5" y="426.5" width="180.00" height="45.00"/>
<rect x="90.5" y="471.5" width="181.00" height="44.00"/>
<rect x="271.5" y="471.5" width="180.00" height="44.00"/>
</g>
<g fill="#262626" font-size="16.45" text-anchor="middle">
<text x="180.40" y="444.1">Correlation</text>
<text x="180.40" y="462.1" letter-spacing="0.07">coefficient</text>
<text x="360.90" y="444.1">Probability</text>
<text x="360.70" y="462.1" letter-spacing="0.09">of significance</text>
<text x="179.80" y="498.2" letter-spacing="-0.25">-0.051</text>
<text x="361.20" y="498.2" letter-spacing="-0.2">0.977</text>
</g>
<g fill="#262626" font-size="16.0" text-anchor="middle" letter-spacing="-0.1">
<text transform="translate(150.10,550.0) scale(1,1.03)">−3</text>
<text transform="translate(272.10,550.0) scale(1,1.03)">−2</text>
<text transform="translate(393.10,550.0) scale(1,1.03)">−1</text>
<text transform="translate(514.10,550.0) scale(1,1.03)">0</text>
<text transform="translate(636.10,550.0) scale(1,1.03)">1</text>
<text transform="translate(757.10,550.0) scale(1,1.03)">2</text>
<text transform="translate(878.10,550.0) scale(1,1.03)">3</text>
</g>
<g fill="#262626" font-size="16.0" text-anchor="end" letter-spacing="-0.1">
<text transform="translate(58.8,484.80) scale(1,1.03)">−30</text>
<text transform="translate(58.8,404.80) scale(1,1.03)">−20</text>
<text transform="translate(58.8,325.80) scale(1,1.03)">−10</text>
<text transform="translate(58.8,245.80) scale(1,1.03)">0</text>
<text transform="translate(58.8,166.80) scale(1,1.03)">10</text>
<text transform="translate(58.8,87.80) scale(1,1.03)">20</text>
</g>
<text x="523.00" y="571" fill="#262626" font-size="16.67" text-anchor="middle">Excess core CPI (local convention), % 6m/6m annualized, seasonally and jump adjusted, point-in-time</text>
<text transform="translate(20.5,279.50) rotate(-90)" fill="#262626" font-size="16.67" text-anchor="middle">Next month 2-year IRS receiver return, 10% vol target</text>
<text x="523.00" y="24" fill="#262626" font-size="19.44" letter-spacing="0.03" text-anchor="middle">Excess core CPI trend and subsequent interest rate swap receiver returns</text>
</svg>
</body>
</html>
